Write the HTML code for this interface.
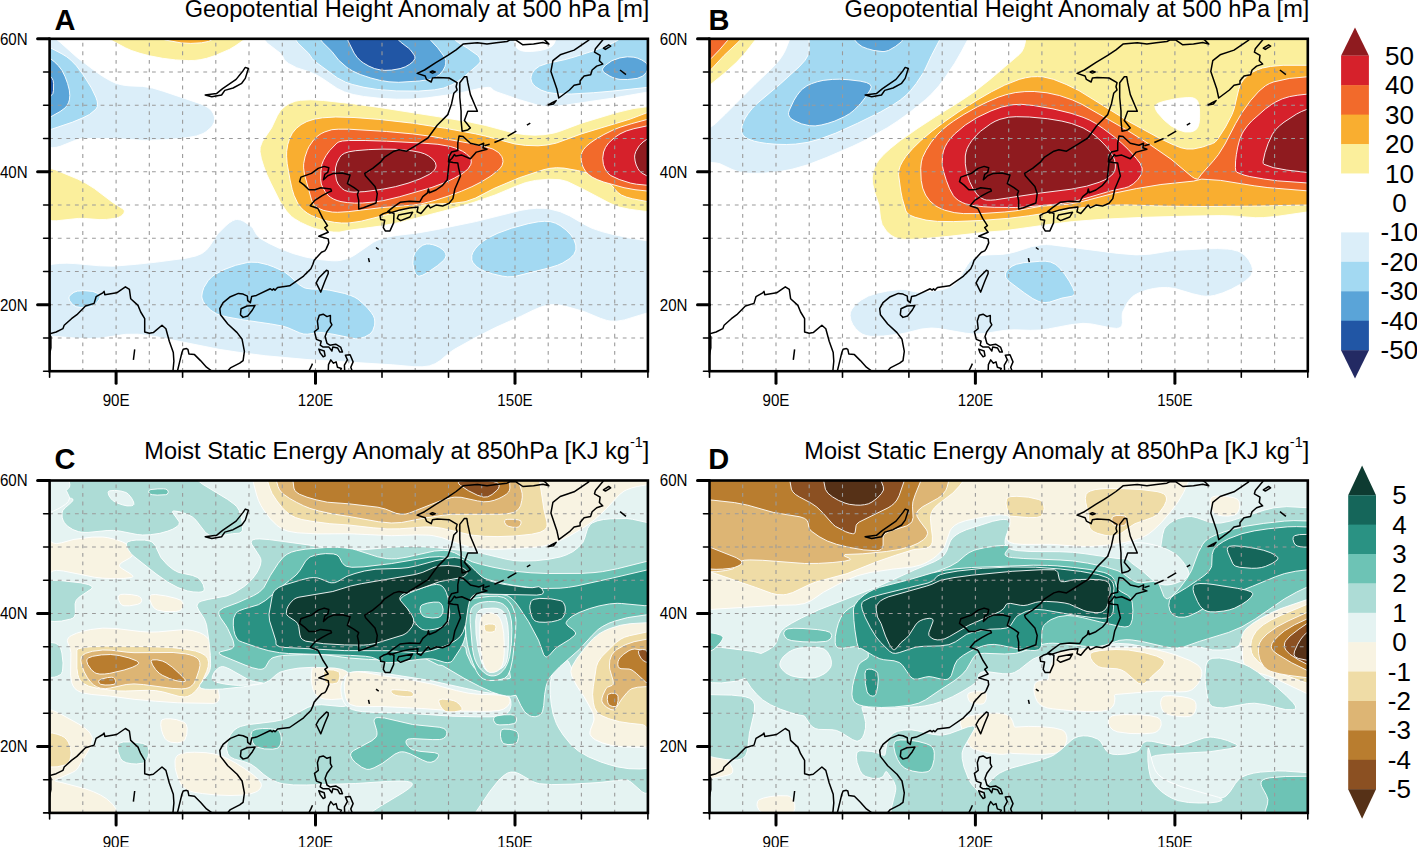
<!DOCTYPE html><html><head><meta charset="utf-8"><style>html,body{margin:0;padding:0;background:#fff;overflow:hidden}svg{display:block}text{font-family:"Liberation Sans",sans-serif;fill:#000}</style></head><body>
<svg width="1417" height="847" viewBox="0 0 1417 847">
<rect width="1417" height="847" fill="#fff"/>
<defs><clipPath id="pc"><rect x="0" y="0" width="598.3" height="332.4"/></clipPath>
<g id="coast">
<path d="M-1.3,322.4 L1.3,309.1 L1.3,297.8 L-0.7,295.2 L6.6,293.2 L13.3,289.9 L14.6,286.5 L21.9,279.9 L27.3,275.9 L35.9,267.2 L44.5,264.6 L46.5,257.9 L53.2,254.0 L54.5,252.6 L55.2,255.9 L67.1,254.0 L75.8,248.0 L79.8,250.6 L81.1,259.9 L88.4,266.6 L91.1,273.2 L95.1,279.9 L95.1,293.2 L99.7,294.5 L103.7,293.8 L112.4,286.5 L116.3,289.9 L119.7,302.5 L123.7,313.8 L124.3,322.4 L123.0,335.7"/>
<path d="M85.1,310.5 L83.8,321.1"/>
<path d="M127.0,335.7 L132.3,313.8 L133.6,310.5 L136.9,309.8 L138.3,310.5 L139.3,315.1 L144.9,315.8 L150.9,321.8 L156.9,328.4 L164.2,333.7"/>
<path d="M176.8,333.7 L180.8,329.1 L190.1,324.4 L193.5,321.8 L194.8,312.5 L192.5,300.5 L187.5,293.8 L178.2,285.2 L170.9,275.9 L170.2,269.9 L173.5,263.9 L180.8,257.9 L188.8,254.6 L193.5,255.3 L197.8,257.3 L198.1,261.9 L200.8,263.9 L202.1,257.6 L206.8,256.6 L220.7,250.0 L222.7,251.3 L224.0,250.0 L225.4,251.3 L226.7,250.0 L228.0,248.6 L240.0,247.0 L254.0,237.3 L255.9,235.3 L261.3,230.0 L263.3,225.4 L264.6,221.4 L271.9,213.4 L275.2,212.1 L276.6,210.1 L279.2,204.1 L278.6,200.1 L269.2,197.4 L278.6,193.5 L275.2,188.8 L277.9,186.8 L273.2,179.5 L268.6,170.2 L267.9,169.5 L260.6,166.9 L265.3,161.5 L272.6,156.9 L278.6,153.6 L281.9,152.2 L281.2,150.2 L271.2,148.9 L265.3,150.9 L259.3,150.9 L254.6,146.3 L250.0,142.9 L251.3,138.3 L261.9,134.6 L268.6,129.6 L274.6,127.6 L279.2,129.0 L278.2,133.6 L275.2,135.6 L273.9,140.9 L278.2,136.9 L283.9,134.6 L292.5,134.3 L300.5,136.3 L297.8,144.9 L304.5,148.9 L309.1,152.2 L307.8,155.6 L309.1,161.5 L309.1,170.2 L313.8,168.9 L326.4,164.2 L327.7,154.9 L325.4,147.6 L315.8,136.9 L315.1,134.6 L323.1,129.6 L331.1,123.0 L335.1,118.3 L344.4,112.4 L349.4,111.0 L357.0,112.4 L369.0,105.0 L378.3,99.2 L387.6,86.4 L398.2,75.8 L401.9,65.2 L404.2,54.5 L407.5,51.2 L406.5,47.9 L407.5,43.9 L399.5,39.2 L387.6,38.6 L382.9,39.2 L381.6,43.2 L376.9,40.6 L375.6,37.2 L367.6,34.6 L374.9,31.2 L386.2,23.9 L398.2,16.6 L406.5,11.0 L413.5,5.3 L427.8,4.0 L437.4,5.3 L446.7,4.0 L457.4,2.7 L460.7,1.0 L466.4,1.3 L473.3,6.0 L484.0,5.3 L493.3,3.7 L499.3,5.3 L495.3,1.3 L488.6,-3.3"/>
<path d="M535.2,-3.3 L539.2,1.3 L524.5,11.3 L510.6,16.0 L503.3,21.9 L501.3,32.6 L507.2,49.9 L509.2,59.2 L519.9,51.2 L524.5,46.5 L530.5,45.2 L530.5,41.9 L534.5,37.2 L541.1,35.9 L542.5,31.2 L547.1,27.3 L553.1,25.3 L549.8,21.9 L550.5,16.6 L544.9,13.3 L545.8,10.0 L553.1,1.3 L555.8,-3.3"/>
<path d="M553.8,9.3 L559.1,6.0 L561.1,7.3 L555.8,10.6Z"/>
<path d="M570.4,31.2 L576.4,35.9"/>
<path d="M498.6,66.1 L502.6,63.8 L506.6,61.8 L503.9,65.2Z"/>
<path d="M434.8,107.0 L440.1,105.4"/>
<path d="M444.8,103.7 L454.1,99.7"/>
<path d="M458.0,97.4 L466.7,92.4"/>
<path d="M477.3,86.4 L480.7,84.4"/>
<path d="M380.6,33.2 L382.9,32.2 L385.6,33.2 L382.9,34.2Z"/>
<path d="M414.8,37.9 L417.2,37.9 L418.2,43.9 L420.8,55.8 L427.8,72.5 L418.2,72.5 L414.8,81.8 L420.8,89.1 L418.2,91.1 L412.5,92.4 L411.5,81.8 L411.5,72.5 L410.2,58.5 L410.2,43.9Z"/>
<path d="M409.5,97.1 L413.5,97.7 L420.8,104.4 L429.5,106.4 L434.1,104.4 L433.4,109.0 L437.4,110.4 L426.8,113.3 L420.8,120.0 L412.2,116.3 L406.2,117.3 L404.9,115.7 L402.2,119.7 L398.9,123.0 L399.5,117.7 L401.9,113.3 L408.2,111.7 L408.2,104.4Z"/>
<path d="M338.1,172.8 L343.0,168.9 L350.5,163.5 L359.9,162.5 L370.3,162.9 L373.2,157.8 L377.9,154.0 L378.8,150.2 L379.7,154.0 L386.4,151.2 L393.0,146.5 L397.7,140.9 L398.6,132.3 L399.5,123.0 L403.5,123.7 L408.2,124.3 L409.1,129.5 L410.9,137.1 L408.1,143.7 L405.3,150.2 L403.3,159.8 L399.5,164.5 L393.0,167.3 L386.4,166.3 L380.7,169.1 L378.8,166.3 L376.0,169.1 L371.3,174.8 L367.5,173.0 L368.4,168.2 L359.9,169.1 L350.5,171.1 L340.4,174.2Z"/>
<path d="M349.0,176.2 L363.0,173.5 L360.3,178.2 L351.0,181.8 L347.7,179.5Z"/>
<path d="M330.4,176.8 L333.7,174.8 L339.7,172.8 L344.4,174.8 L344.0,184.1 L340.4,192.1 L335.7,192.1 L333.7,188.8 L335.1,181.5 L331.1,180.8Z"/>
<path d="M318.9,219.4 L319.8,223.4"/>
<path d="M326.4,208.7 L329.1,210.7"/>
<path d="M278.6,232.3 L276.9,231.4 L269.2,239.3 L266.6,244.0 L271.2,253.3 L275.2,242.7 L278.6,234.7Z"/>
<path d="M191.5,269.9 L197.4,267.2 L205.4,266.6 L202.8,271.2 L198.1,277.2 L193.5,278.6 L190.8,275.9Z"/>
<path d="M269.7,276.4 L273.6,275.4 L277.4,277.8 L280.8,276.6 L280.8,283.1 L282.3,286.1 L277.4,292.8 L275.5,297.7 L277.4,304.5 L280.3,306.4 L286.1,305.4 L291.0,308.3 L292.9,313.2 L290.1,313.2 L288.1,309.3 L283.2,308.3 L282.3,312.2 L279.3,308.3 L273.6,308.3 L270.6,306.4 L271.6,302.5 L266.8,300.6 L264.9,292.8 L268.7,289.9 L267.8,282.2Z"/>
<path d="M269.2,310.3 L274.6,312.2 L275.5,317.0 L273.6,318.0 L270.6,314.1Z"/>
<path d="M278.6,333.7 L278.9,325.8 L281.2,321.1 L283.9,324.4 L286.5,323.1 L287.9,328.4 L291.8,329.7 L289.9,333.7"/>
<path d="M295.2,333.7 L294.8,326.4 L297.8,321.1 L295.8,316.4 L300.5,316.0 L303.5,323.1 L301.2,328.4 L303.1,333.7"/>
<path d="M258.6,333.7 L261.3,328.4 L262.9,324.8"/>
<path d="M155.6,56.2 L166.9,54.8 L173.0,49.9 L186.5,40.6 L193.5,31.9 L195.7,28.6 L198.8,29.7 L195.7,39.6 L192.1,44.5 L183.5,49.2 L175.2,51.6 L172.0,56.2 L162.2,58.0Z"/>
</g></defs>
<g transform="translate(49.6,38.8)">
<g clip-path="url(#pc)">
<rect x="0" y="0" width="598.3" height="332.4" fill="#ffffff"/>
<path d="M215.3,-1.0 L215.5,1.6 L217.6,4.3 L231.2,14.7 L232.6,16.6 L234.7,20.8 L236.5,22.8 L238.9,24.6 L247.0,28.9 L258.5,32.6 L266.6,35.9 L272.2,39.2 L287.6,49.6 L295.0,53.1 L303.7,55.7 L313.8,57.6 L330.4,59.5 L347.1,60.4 L362.6,60.3 L377.7,59.0 L400.9,55.8 L409.3,54.4 L431.4,49.3 L438.8,48.5 L441.3,48.9 L444.3,51.7 L447.4,53.2 L469.9,60.9 L488.1,66.3 L493.8,67.4 L498.1,67.8 L506.2,67.5 L515.5,66.4 L563.7,59.2 L598.3,53.2 L600.1,53.2 L601.6,53.8 L602.6,54.7 L604.3,57.4 L605.7,49.3 L610.2,30.7 L611.5,23.3 L612.4,15.8 L612.4,8.8 L611.4,2.4 L609.0,-2.8 L605.0,-6.6 L598.6,-9.1 L590.0,-10.6 L579.6,-11.3 L568.0,-11.3 L543.6,-10.0 L502.6,-6.3 L500.4,-5.8 L499.5,-5.2 L499.8,-4.6 L505.4,-1.6 L506.5,-0.2 L504.7,4.5 L502.7,7.1 L499.3,9.2 L494.4,10.9 L488.6,12.0 L481.7,12.7 L475.2,12.6 L470.9,11.7 L467.8,9.9 L465.9,6.9 L464.1,0.4 L464.8,-0.7 L467.5,-1.7 L478.2,-4.0 L480.5,-4.7 L480.9,-5.3 L478.8,-5.8 L473.4,-6.3 L428.9,-7.4 L377.0,-8.2 L319.7,-8.6 L267.8,-8.2 L247.5,-7.6 L232.7,-6.6 L223.2,-5.2 L217.7,-3.3Z M-11.3,240.4 L-12.0,247.6 L-12.0,255.5 L-11.5,263.7 L-6.7,297.1 L-6.3,302.0 L-5.5,300.1 L-3.8,298.1 L-2.1,297.4 L-0.1,297.2 L28.7,299.5 L42.5,299.8 L51.0,299.2 L76.0,295.5 L88.7,295.4 L105.7,297.7 L169.5,310.5 L190.5,313.7 L215.6,316.9 L258.4,320.8 L343.1,326.0 L364.4,327.9 L372.5,328.0 L379.6,327.1 L385.5,324.9 L390.5,321.8 L399.6,314.1 L404.8,310.5 L427.0,298.2 L446.3,288.5 L471.9,277.1 L484.7,270.9 L491.1,268.3 L497.4,266.4 L500.6,265.9 L506.8,265.8 L516.2,267.5 L535.0,272.9 L550.8,279.5 L557.2,281.6 L560.5,282.2 L567.2,282.4 L574.8,281.1 L598.3,273.9 L600.1,273.9 L601.6,274.6 L602.6,275.6 L604.3,278.9 L605.3,269.3 L605.7,255.4 L605.8,229.1 L605.3,206.7 L604.7,199.2 L604.0,196.9 L600.9,201.2 L599.7,201.9 L598.3,202.1 L580.0,199.3 L562.2,195.4 L552.3,192.8 L542.5,189.5 L536.1,186.4 L520.1,177.1 L510.6,172.9 L499.1,170.0 L493.4,169.5 L487.0,169.5 L479.3,170.2 L470.1,171.8 L426.1,182.8 L388.1,190.6 L368.3,194.2 L346.6,196.7 L334.8,198.9 L327.5,201.6 L323.9,203.4 L304.9,216.4 L299.2,219.4 L291.6,221.5 L287.2,222.0 L282.7,222.0 L269.3,220.7 L256.5,218.4 L243.3,214.7 L229.5,209.4 L219.4,204.6 L211.4,200.1 L209.5,198.7 L207.0,196.0 L203.4,189.6 L201.4,187.5 L194.2,182.6 L191.0,181.2 L187.7,180.7 L186.1,180.8 L182.9,182.0 L179.6,184.1 L176.3,186.9 L167.9,195.3 L160.5,206.8 L156.9,211.2 L152.3,214.7 L146.5,217.1 L136.5,219.4 L107.2,223.3 L86.9,225.5 L63.8,227.4 L49.8,227.0 L25.3,224.8 L17.3,224.4 L9.9,224.6 L3.2,225.4 L-2.4,227.2 L-6.6,230.0 L-9.5,234.4Z M-8.1,12.5 L-9.9,49.1 L-10.0,74.6 L-9.4,85.8 L-8.3,95.0 L-6.6,101.7 L-4.2,105.8 L-1.1,108.1 L2.6,108.9 L6.8,108.5 L11.2,107.3 L25.1,101.7 L29.3,100.3 L33.3,99.7 L66.5,99.7 L95.9,101.7 L118.1,100.8 L137.0,98.9 L147.1,97.1 L153.5,94.7 L156.5,92.9 L160.9,89.1 L162.7,87.1 L164.4,83.9 L165.0,81.7 L164.9,78.5 L163.9,75.2 L162.6,73.0 L160.8,70.8 L158.4,68.8 L155.2,66.9 L151.2,65.1 L113.5,52.4 L103.1,49.3 L93.1,47.6 L79.8,47.1 L73.1,46.3 L66.5,44.6 L59.7,41.4 L52.9,37.4 L46.1,32.8 L27.2,18.4 L10.4,3.4 L4.1,-1.6 L-3.2,-10.8 L-4.2,-10.9 L-5.1,-9.9 L-6.0,-7.5Z" fill="#dbeef9" stroke="#fff" stroke-width="0.9" fill-rule="evenodd"/>
<path d="M482.2,43.4 L483.8,45.7 L485.9,47.8 L491.4,51.3 L498.2,53.6 L507.6,55.0 L521.6,55.2 L544.1,53.9 L562.6,52.3 L598.4,48.5 L600.5,48.6 L602.3,49.2 L604.0,50.8 L604.7,52.4 L607.0,27.8 L607.7,14.1 L607.2,1.7 L606.3,-3.1 L605.0,-6.6 L602.8,-8.9 L599.9,-10.3 L596.4,-10.9 L592.6,-10.9 L584.3,-9.8 L570.4,-6.3 L569.5,-5.2 L571.1,-1.7 L570.4,-0.0 L565.3,3.2 L557.8,6.8 L544.6,11.8 L524.4,18.3 L514.6,21.0 L497.6,24.6 L489.9,27.3 L485.2,30.7 L482.5,34.7 L481.6,37.4 L481.3,39.9Z M422.2,221.1 L423.5,223.9 L426.9,227.7 L430.1,230.0 L434.6,232.2 L443.2,235.1 L452.6,237.3 L458.1,238.0 L464.6,237.8 L498.7,229.3 L508.0,226.4 L512.8,224.3 L520.4,219.6 L524.3,215.6 L526.3,211.2 L526.2,206.2 L524.4,201.0 L521.2,196.1 L516.5,191.3 L510.4,186.7 L505.7,184.3 L500.6,182.8 L495.0,182.5 L488.6,183.0 L478.6,184.9 L462.0,189.4 L448.3,194.4 L439.3,198.7 L432.4,203.2 L428.6,206.6 L425.6,210.1 L423.4,213.5 L422.2,216.7Z M245.9,-1.1 L246.5,1.5 L248.2,4.2 L259.1,14.6 L262.7,19.9 L265.3,22.6 L287.8,39.1 L296.0,43.4 L302.6,45.6 L314.4,48.5 L327.6,50.6 L346.6,52.1 L368.7,52.3 L384.9,51.0 L394.2,49.2 L402.3,46.0 L406.0,44.0 L412.8,39.3 L428.3,26.0 L430.0,24.0 L430.7,22.5 L430.1,19.2 L428.0,16.5 L417.5,9.1 L408.9,3.9 L405.7,1.5 L405.6,0.5 L406.5,-0.4 L413.3,-4.1 L413.4,-4.9 L411.9,-5.6 L408.3,-6.2 L392.7,-7.1 L346.8,-8.3 L310.4,-8.7 L277.8,-8.3 L265.1,-7.6 L255.9,-6.6 L250.2,-5.2 L247.1,-3.3Z M363.7,218.3 L363.3,225.0 L364.8,232.4 L365.9,234.7 L367.2,236.5 L368.9,237.3 L370.0,237.3 L372.7,236.5 L377.4,234.1 L388.1,226.7 L393.9,221.6 L395.7,219.2 L396.4,217.0 L396.1,214.9 L394.9,212.8 L393.2,211.0 L390.2,208.7 L386.4,206.9 L383.2,205.9 L380.0,205.3 L377.0,205.2 L373.1,206.4 L369.5,209.1 L365.6,213.6Z M153.7,262.9 L156.2,266.5 L161.1,271.3 L166.8,275.0 L171.2,276.6 L178.6,278.4 L194.4,281.2 L221.1,285.1 L232.7,287.2 L238.3,288.9 L250.2,294.1 L254.0,295.2 L257.7,295.4 L268.3,293.9 L272.6,293.8 L283.4,295.4 L306.1,300.0 L308.7,300.0 L315.2,298.1 L320.6,295.1 L323.1,292.0 L325.0,286.4 L325.2,283.2 L324.9,280.0 L323.8,277.0 L321.7,273.8 L317.6,268.8 L313.1,264.5 L308.4,260.4 L305.0,258.4 L300.9,256.6 L295.1,254.7 L280.0,251.4 L273.0,250.4 L262.3,250.3 L256.0,249.4 L253.9,248.6 L249.9,246.1 L239.8,236.9 L235.2,233.4 L232.7,232.0 L224.2,228.2 L218.0,225.9 L208.2,223.6 L201.5,223.4 L197.9,223.7 L186.1,226.5 L174.2,230.9 L164.9,236.0 L162.5,237.8 L158.5,241.9 L154.3,248.7 L152.8,253.2 L152.2,257.3 L152.4,259.2Z M20.1,262.0 L23.2,265.9 L26.6,267.9 L31.2,268.7 L38.6,268.4 L43.2,267.2 L46.5,265.0 L49.7,260.7 L50.4,258.8 L50.4,257.2 L49.7,255.9 L48.3,254.7 L43.2,252.6 L34.9,251.9 L27.9,252.3 L24.3,253.5 L20.7,256.2 L19.7,257.7 L19.3,259.2Z M-7.3,28.5 L-7.2,78.8 L-6.6,91.8 L-5.7,98.1 L-5.3,98.0 L-2.6,93.1 L-0.1,91.1 L23.0,83.3 L33.3,79.0 L40.0,75.6 L46.3,70.4 L47.8,67.7 L48.0,65.3 L47.5,62.1 L46.2,58.3 L41.9,49.3 L33.5,35.9 L26.8,27.0 L21.3,21.3 L17.1,18.0 L12.4,15.1 L0.1,8.7 L-1.2,7.7 L-2.4,6.1 L-5.2,0.7 L-5.6,0.5 L-6.6,6.7Z" fill="#a3d9f2" stroke="#fff" stroke-width="0.9" fill-rule="evenodd"/>
<path d="M552.9,30.6 L553.5,32.6 L555.3,34.3 L559.7,37.0 L563.2,38.7 L567.3,40.0 L570.4,40.6 L577.9,40.7 L587.5,39.6 L592.7,37.5 L594.6,36.0 L596.8,33.5 L597.9,31.1 L598.2,28.4 L597.5,25.7 L596.4,24.0 L592.3,21.2 L587.7,19.3 L584.3,18.4 L577.7,18.0 L570.3,19.1 L562.3,21.9 L555.9,26.4 L553.5,29.1Z M270.0,-1.6 L270.8,0.6 L272.6,3.1 L282.2,12.6 L289.2,21.5 L297.4,28.7 L302.8,32.1 L310.7,35.7 L321.2,39.2 L330.2,41.5 L339.4,43.0 L349.0,43.5 L369.6,42.2 L380.1,40.7 L385.4,38.9 L390.1,35.7 L393.6,31.3 L395.3,27.9 L396.0,25.5 L396.2,21.9 L395.5,19.6 L394.1,17.1 L388.1,9.0 L381.0,1.4 L380.9,0.5 L381.5,-0.4 L385.8,-4.1 L385.7,-4.9 L384.5,-5.6 L381.9,-6.2 L370.9,-7.1 L338.7,-8.2 L313.4,-8.6 L290.8,-8.1 L282.1,-7.5 L275.9,-6.6 L272.2,-5.3 L270.4,-3.7Z M-7.2,27.3 L-7.5,48.9 L-7.2,70.4 L-6.6,79.8 L-6.3,82.3 L-5.5,84.3 L-4.4,83.6 L-1.0,79.2 L10.4,72.8 L15.5,69.1 L17.5,66.6 L18.9,63.9 L19.8,61.1 L20.2,56.6 L19.7,51.3 L18.0,44.7 L15.5,37.9 L12.6,31.9 L9.0,27.1 L4.9,23.1 L-0.9,18.5 L-4.8,13.4 L-5.3,13.4 L-5.8,14.0 L-6.3,15.5Z" fill="#5aa4d8" stroke="#fff" stroke-width="0.9" fill-rule="evenodd"/>
<path d="M297.3,-2.8 L297.4,-1.0 L298.8,2.8 L304.6,14.4 L307.5,18.5 L311.1,22.2 L314.0,24.3 L319.2,27.3 L325.0,29.8 L331.1,31.2 L335.3,31.6 L342.1,31.3 L350.5,29.8 L355.7,28.0 L360.2,25.4 L363.7,22.5 L365.3,19.7 L365.3,17.9 L364.5,16.1 L361.0,11.3 L358.9,9.3 L350.9,3.2 L349.0,1.3 L348.7,-0.6 L350.5,-4.1 L350.6,-4.9 L350.1,-5.6 L349.0,-6.2 L343.9,-7.0 L329.3,-8.0 L317.7,-8.2 L307.4,-7.8 L300.5,-6.6 L298.7,-5.6 L297.7,-4.3Z M-7.1,34.7 L-7.7,42.9 L-7.4,55.9 L-6.6,59.9 L-6.1,60.7 L-4.5,61.1 L-2.5,60.3 L-0.4,58.7 L3.2,54.9 L3.9,51.5 L4.0,44.9 L3.5,41.7 L2.7,39.9 L-2.1,34.3 L-5.3,32.4 L-6.1,32.5 L-6.6,33.2Z" fill="#2156a5" stroke="#fff" stroke-width="0.9" fill-rule="evenodd"/>
<path d="M210.6,108.4 L210.4,113.0 L211.8,120.0 L214.1,127.4 L217.2,135.6 L221.2,144.3 L230.9,163.6 L236.9,172.3 L241.8,177.6 L245.0,180.0 L251.1,183.6 L257.9,186.8 L264.6,189.5 L275.7,192.3 L284.1,193.3 L289.5,193.4 L299.1,191.5 L332.8,187.0 L350.3,183.6 L403.4,169.7 L424.5,163.4 L445.4,156.2 L465.8,147.6 L476.0,143.8 L485.9,141.6 L498.9,140.4 L510.5,140.9 L517.7,142.7 L534.0,150.6 L560.4,164.5 L569.5,168.2 L579.7,170.4 L598.4,172.9 L599.8,173.6 L601.0,175.0 L604.1,181.8 L604.4,180.8 L605.0,174.2 L605.5,158.1 L605.8,107.9 L605.3,74.6 L604.7,63.5 L604.0,59.9 L603.6,60.0 L600.9,65.8 L599.7,67.2 L598.4,67.8 L583.5,69.8 L566.9,73.8 L531.8,84.4 L509.7,92.7 L503.7,94.4 L494.4,95.9 L485.4,96.4 L475.7,95.9 L465.0,94.4 L436.1,86.7 L420.7,83.4 L389.3,78.0 L330.0,68.7 L304.8,65.2 L273.9,61.7 L261.2,61.0 L250.8,61.5 L245.5,62.5 L239.3,65.0 L235.9,67.2 L231.2,71.3 L227.7,76.9 L222.0,89.1 L212.8,102.7Z M43.2,-5.3 L43.7,-4.8 L45.4,-4.1 L57.2,-0.9 L75.8,9.0 L81.6,11.6 L90.4,14.5 L100.0,17.0 L113.1,19.5 L126.1,21.1 L139.0,21.8 L145.3,21.6 L151.2,20.8 L157.1,19.5 L165.6,16.7 L179.8,10.6 L185.4,7.3 L194.5,1.0 L206.3,-3.0 L208.3,-3.9 L209.0,-4.8 L208.1,-5.5 L205.0,-6.1 L199.4,-6.6 L177.5,-7.3 L144.6,-7.6 L62.3,-7.0 L47.5,-6.3 L44.3,-5.8Z M-8.0,134.4 L-9.9,143.2 L-10.8,154.4 L-10.4,165.9 L-9.6,170.9 L-8.3,175.1 L-6.6,178.2 L-4.3,180.1 L-1.1,181.3 L2.7,181.9 L6.8,182.0 L28.6,179.6 L34.8,179.6 L49.5,180.8 L57.0,180.6 L64.2,179.7 L68.7,178.6 L71.8,177.1 L74.3,174.4 L74.7,173.0 L74.5,171.5 L72.7,169.7 L63.8,164.2 L44.7,149.7 L36.4,144.5 L28.1,140.3 L6.0,131.1 L-0.1,129.4 L-2.7,129.4 L-4.9,130.1 L-6.6,131.6Z" fill="#fbef9c" stroke="#fff" stroke-width="0.9" fill-rule="evenodd"/>
<path d="M237.1,112.6 L237.0,117.4 L237.6,125.0 L240.5,141.3 L242.6,150.6 L244.4,156.5 L248.0,164.2 L250.8,168.2 L254.0,171.5 L257.6,174.3 L261.8,176.7 L272.1,180.7 L278.1,182.3 L284.7,183.5 L291.8,184.2 L299.1,184.2 L311.5,182.4 L345.2,173.9 L363.1,168.4 L372.9,166.2 L380.9,165.4 L403.2,164.5 L415.5,162.9 L425.8,159.3 L444.3,149.7 L469.8,138.9 L494.3,130.8 L500.4,129.5 L507.0,128.9 L514.5,129.3 L527.9,131.7 L537.3,134.1 L549.8,138.2 L555.9,141.0 L558.3,142.7 L561.9,146.3 L567.9,153.4 L571.7,156.2 L576.8,158.3 L582.7,159.9 L598.4,162.9 L599.8,163.6 L601.0,164.7 L603.7,169.7 L604.1,169.7 L604.4,168.7 L605.5,149.2 L605.8,106.8 L605.3,78.8 L604.7,69.5 L604.0,66.4 L603.6,66.5 L600.9,71.6 L599.6,73.1 L580.6,80.3 L531.8,95.1 L506.7,104.3 L497.5,106.2 L488.4,107.0 L475.8,106.6 L465.0,105.1 L436.1,97.4 L426.1,95.1 L395.9,89.5 L363.0,84.4 L329.3,80.6 L304.4,78.7 L286.2,78.2 L272.9,79.0 L264.6,80.4 L257.3,82.7 L251.5,85.8 L246.7,89.6 L242.8,94.3 L240.0,99.8 L238.1,106.0Z M108.2,-4.3 L109.3,-2.8 L111.2,-1.2 L113.8,0.5 L116.1,1.3 L131.5,4.1 L141.2,4.6 L151.9,4.0 L159.1,2.6 L161.6,1.3 L166.4,-2.8 L167.7,-4.3 L167.9,-5.0 L167.4,-5.7 L166.2,-6.2 L160.9,-6.9 L131.9,-7.4 L112.4,-6.7 L108.9,-5.7 L108.3,-5.0Z" fill="#f9ae30" stroke="#fff" stroke-width="0.9" fill-rule="evenodd"/>
<path d="M603.6,157.6 L604.0,157.7 L604.3,156.9 L605.0,152.2 L605.8,125.0 L605.5,90.8 L604.3,74.3 L601.5,78.5 L598.4,80.4 L582.3,84.8 L570.6,88.4 L563.7,91.1 L554.3,95.7 L545.4,100.9 L540.4,104.4 L536.5,107.7 L533.9,110.8 L532.3,113.9 L531.5,117.0 L531.6,121.4 L532.6,126.1 L534.0,129.3 L536.0,132.5 L538.8,135.5 L542.5,138.3 L547.6,140.8 L554.1,143.2 L574.4,148.9 L585.4,150.9 L598.4,152.3 L600.9,153.6Z M259.6,107.5 L257.7,111.5 L255.4,118.1 L254.1,124.8 L254.0,129.1 L254.9,135.7 L262.1,161.7 L264.6,166.2 L268.2,169.2 L274.2,171.7 L282.7,173.3 L288.1,173.5 L299.2,172.8 L331.1,168.9 L363.8,166.3 L372.3,164.9 L385.6,161.5 L399.2,157.1 L411.8,152.4 L422.3,147.9 L431.5,143.2 L441.4,137.1 L448.4,131.6 L450.8,129.1 L452.4,126.7 L453.4,123.0 L453.1,120.4 L452.2,117.8 L449.1,113.8 L443.4,110.3 L434.1,107.4 L421.9,104.8 L381.5,97.5 L363.0,95.1 L337.1,92.7 L299.2,90.4 L288.7,90.4 L282.2,90.9 L275.2,93.1 L271.6,94.8 L268.3,97.0 L264.1,101.0Z" fill="#f26a2b" stroke="#fff" stroke-width="0.9" fill-rule="evenodd"/>
<path d="M603.3,150.7 L603.8,150.7 L604.2,150.1 L605.0,146.2 L605.8,123.7 L605.5,95.5 L605.0,86.4 L604.0,82.0 L600.9,85.6 L599.6,86.6 L584.3,89.9 L576.6,92.2 L570.4,95.1 L564.9,98.8 L558.9,104.3 L555.9,108.6 L554.0,113.2 L553.1,119.5 L553.8,125.6 L555.5,130.2 L558.4,134.4 L561.3,136.8 L569.7,140.7 L581.0,144.3 L586.9,145.4 L599.3,146.6 L600.5,147.4Z M287.3,104.3 L280.1,111.7 L276.6,116.6 L273.9,121.5 L272.2,125.8 L271.3,132.5 L271.1,140.9 L271.7,145.3 L273.2,148.8 L275.5,152.7 L278.5,156.5 L281.1,158.6 L284.1,160.3 L287.5,161.7 L291.4,162.8 L297.8,163.8 L305.0,164.3 L313.1,164.2 L325.0,163.1 L334.1,161.7 L350.1,157.9 L382.3,148.6 L397.0,143.1 L405.1,139.1 L412.3,135.0 L416.0,132.3 L418.7,129.6 L421.1,125.8 L421.7,123.2 L421.4,120.7 L420.1,118.3 L416.6,114.8 L413.0,112.5 L406.3,109.4 L400.9,107.7 L388.3,105.5 L372.5,104.3 L337.0,102.4 L315.6,101.7 L299.2,101.7 L292.9,102.2 L289.3,103.1Z" fill="#d6212b" stroke="#fff" stroke-width="0.9" fill-rule="evenodd"/>
<path d="M602.9,141.2 L604.1,140.8 L605.0,138.2 L605.8,123.3 L605.3,100.9 L604.6,96.8 L603.5,95.6 L602.2,96.1 L599.1,99.2 L593.5,103.1 L589.7,106.8 L586.2,112.7 L585.2,116.0 L585.0,118.3 L585.5,122.2 L586.6,126.2 L588.4,129.9 L589.7,131.9 L592.5,134.4 L599.1,138.1Z M287.3,124.1 L285.9,129.2 L285.9,135.6 L286.8,141.3 L288.6,145.3 L292.1,149.5 L295.1,151.6 L299.1,152.9 L304.4,153.4 L315.3,152.8 L332.7,150.5 L346.1,147.8 L358.4,144.4 L370.4,140.1 L379.6,135.6 L382.6,133.5 L384.7,131.4 L386.0,129.2 L386.5,127.1 L385.8,123.9 L383.2,120.4 L378.9,117.1 L375.1,115.1 L370.6,113.6 L362.3,112.0 L345.4,110.5 L333.4,110.3 L319.2,110.8 L305.9,111.9 L299.2,113.0 L294.8,114.5 L291.9,116.4 L290.2,118.5Z" fill="#8f1b1f" stroke="#fff" stroke-width="0.9" fill-rule="evenodd"/>
<path d="M33.2,0 V332.4 M66.5,0 V332.4 M99.7,0 V332.4 M133.0,0 V332.4 M166.2,0 V332.4 M199.4,0 V332.4 M232.7,0 V332.4 M265.9,0 V332.4 M299.2,0 V332.4 M332.4,0 V332.4 M365.6,0 V332.4 M398.9,0 V332.4 M432.1,0 V332.4 M465.4,0 V332.4 M498.6,0 V332.4 M531.8,0 V332.4 M565.1,0 V332.4" stroke="#9a9a9a" stroke-width="1.1" stroke-dasharray="3.8,4.76" stroke-dashoffset="4.56" fill="none"/>
<path d="M0,33.2 H598.3 M0,66.5 H598.3 M0,99.7 H598.3 M0,133.0 H598.3 M0,166.2 H598.3 M0,199.4 H598.3 M0,232.7 H598.3 M0,265.9 H598.3 M0,299.2 H598.3" stroke="#9a9a9a" stroke-width="1.1" stroke-dasharray="3.8,4.76" stroke-dashoffset="0.36" fill="none"/>
<use href="#coast" fill="none" stroke="#000" stroke-width="1.5" stroke-linejoin="round"/>
</g>
<rect x="0" y="0" width="598.3" height="332.4" fill="none" stroke="#000" stroke-width="2.6"/>
<line x1="0.0" y1="332.4" x2="0.0" y2="338.4" stroke="#000" stroke-width="1.6" stroke-linecap="round"/>
<line x1="66.5" y1="332.4" x2="66.5" y2="344.4" stroke="#000" stroke-width="3" stroke-linecap="round"/>
<line x1="133.0" y1="332.4" x2="133.0" y2="338.4" stroke="#000" stroke-width="1.6" stroke-linecap="round"/>
<line x1="199.4" y1="332.4" x2="199.4" y2="338.4" stroke="#000" stroke-width="1.6" stroke-linecap="round"/>
<line x1="265.9" y1="332.4" x2="265.9" y2="344.4" stroke="#000" stroke-width="3" stroke-linecap="round"/>
<line x1="332.4" y1="332.4" x2="332.4" y2="338.4" stroke="#000" stroke-width="1.6" stroke-linecap="round"/>
<line x1="398.9" y1="332.4" x2="398.9" y2="338.4" stroke="#000" stroke-width="1.6" stroke-linecap="round"/>
<line x1="465.4" y1="332.4" x2="465.4" y2="344.4" stroke="#000" stroke-width="3" stroke-linecap="round"/>
<line x1="531.8" y1="332.4" x2="531.8" y2="338.4" stroke="#000" stroke-width="1.6" stroke-linecap="round"/>
<line x1="598.3" y1="332.4" x2="598.3" y2="338.4" stroke="#000" stroke-width="1.6" stroke-linecap="round"/>
<line x1="0.0" y1="332.4" x2="-6.0" y2="332.4" stroke="#000" stroke-width="1.6" stroke-linecap="round"/>
<line x1="0.0" y1="299.2" x2="-6.0" y2="299.2" stroke="#000" stroke-width="1.6" stroke-linecap="round"/>
<line x1="0.0" y1="265.9" x2="-12.0" y2="265.9" stroke="#000" stroke-width="3" stroke-linecap="round"/>
<line x1="0.0" y1="232.7" x2="-6.0" y2="232.7" stroke="#000" stroke-width="1.6" stroke-linecap="round"/>
<line x1="0.0" y1="199.4" x2="-6.0" y2="199.4" stroke="#000" stroke-width="1.6" stroke-linecap="round"/>
<line x1="0.0" y1="166.2" x2="-6.0" y2="166.2" stroke="#000" stroke-width="1.6" stroke-linecap="round"/>
<line x1="0.0" y1="133.0" x2="-12.0" y2="133.0" stroke="#000" stroke-width="3" stroke-linecap="round"/>
<line x1="0.0" y1="99.7" x2="-6.0" y2="99.7" stroke="#000" stroke-width="1.6" stroke-linecap="round"/>
<line x1="0.0" y1="66.5" x2="-6.0" y2="66.5" stroke="#000" stroke-width="1.6" stroke-linecap="round"/>
<line x1="0.0" y1="33.2" x2="-6.0" y2="33.2" stroke="#000" stroke-width="1.6" stroke-linecap="round"/>
<line x1="0.0" y1="0.0" x2="-12.0" y2="0.0" stroke="#000" stroke-width="3" stroke-linecap="round"/>
<text transform="translate(66.5,367.0) scale(0.9,1)" font-size="16.8" text-anchor="middle">90E</text>
<text transform="translate(265.9,367.0) scale(0.9,1)" font-size="16.8" text-anchor="middle">120E</text>
<text transform="translate(465.4,367.0) scale(0.9,1)" font-size="16.8" text-anchor="middle">150E</text>
<text transform="translate(-22,5.9) scale(0.9,1)" font-size="16.8" text-anchor="end">60N</text>
<text transform="translate(-22,138.9) scale(0.9,1)" font-size="16.8" text-anchor="end">40N</text>
<text transform="translate(-22,271.8) scale(0.9,1)" font-size="16.8" text-anchor="end">20N</text>
</g>
<g transform="translate(709.5,38.8)">
<g clip-path="url(#pc)">
<rect x="0" y="0" width="598.3" height="332.4" fill="#ffffff"/>
<path d="M141.0,273.4 L140.6,276.6 L141.4,281.4 L143.4,285.9 L146.2,289.7 L149.7,293.2 L152.8,295.2 L156.7,296.7 L161.4,297.5 L173.8,297.2 L190.8,295.2 L196.9,294.0 L211.9,290.2 L222.0,289.2 L230.0,289.8 L256.4,294.4 L264.6,295.2 L275.6,294.6 L292.5,291.9 L299.2,291.2 L305.6,291.0 L320.8,291.5 L331.1,291.2 L339.0,290.1 L361.0,285.9 L373.6,284.5 L381.8,285.1 L401.3,289.0 L407.2,289.6 L409.5,289.2 L411.2,288.3 L412.2,287.1 L413.0,283.9 L412.6,277.7 L412.9,273.7 L417.3,264.7 L419.8,261.2 L422.8,258.0 L424.8,256.5 L429.2,254.1 L437.4,251.2 L443.9,249.7 L450.8,248.8 L458.0,248.6 L465.9,249.8 L483.4,255.0 L492.2,257.0 L496.4,257.4 L500.6,257.3 L504.8,256.6 L513.4,254.0 L522.1,250.2 L529.9,246.0 L536.2,241.8 L540.2,238.3 L541.5,236.6 L542.9,233.1 L542.9,229.7 L542.0,226.4 L539.6,221.9 L537.5,218.9 L534.6,216.0 L530.7,213.4 L528.1,212.3 L521.9,210.7 L517.9,210.3 L508.1,209.8 L496.7,210.0 L468.7,211.4 L459.9,212.3 L440.6,215.4 L426.8,216.1 L408.3,214.6 L342.3,206.1 L336.9,205.8 L331.1,206.1 L321.6,208.0 L305.7,213.1 L299.1,214.7 L292.2,215.6 L277.6,216.1 L270.7,217.1 L267.6,218.0 L264.6,219.4 L262.0,221.3 L259.7,223.7 L257.6,226.6 L248.1,242.1 L245.7,244.7 L243.3,246.6 L240.5,248.2 L237.4,249.5 L230.8,251.2 L220.5,252.6 L208.9,253.4 L204.8,252.9 L195.5,250.7 L190.8,250.6 L178.2,252.2 L167.7,254.4 L158.9,257.3 L152.0,261.1 L148.1,264.0 L144.9,267.2 L142.4,270.4Z M-6.3,89.2 L-7.0,92.3 L-8.0,101.3 L-8.2,108.4 L-7.9,114.9 L-6.6,119.7 L-5.6,121.2 L-2.9,122.9 L0.6,123.6 L6.7,124.1 L10.6,125.0 L22.5,130.6 L29.3,133.1 L34.7,134.0 L40.7,134.5 L54.0,134.4 L70.1,132.8 L82.6,130.4 L98.2,126.0 L117.4,118.5 L142.9,107.5 L155.7,101.4 L178.1,88.8 L187.6,82.6 L200.5,73.4 L216.4,60.5 L222.0,55.2 L229.4,47.0 L235.7,38.5 L245.2,24.4 L252.2,12.3 L258.7,-0.1 L260.1,-1.5 L262.5,-2.8 L272.6,-5.4 L272.7,-5.8 L266.5,-6.3 L247.9,-6.9 L169.9,-7.5 L91.9,-6.9 L73.3,-6.3 L67.6,-5.6 L68.1,-5.2 L78.3,-2.4 L79.9,-1.3 L80.4,-0.1 L75.8,11.6 L73.2,16.4 L69.8,21.3 L63.0,28.9 L45.5,45.6 L15.7,75.5 L5.8,85.0 L2.2,87.7 L-0.7,89.3 L-1.8,89.3 L-5.2,88.2Z" fill="#dbeef9" stroke="#fff" stroke-width="0.9" fill-rule="evenodd"/>
<path d="M296.1,238.3 L297.1,240.2 L299.9,242.9 L315.0,254.2 L323.3,259.8 L328.6,262.4 L331.1,263.3 L335.7,263.8 L340.3,263.2 L352.4,259.3 L362.6,257.4 L364.6,255.9 L365.0,254.8 L365.0,253.3 L363.2,248.7 L359.8,242.4 L355.4,235.7 L350.5,229.7 L348.0,227.2 L345.7,225.4 L340.9,223.2 L335.7,222.4 L330.3,222.5 L314.2,223.9 L306.8,225.5 L302.5,227.4 L298.2,230.9 L296.8,233.0 L295.9,235.2Z M90.1,-5.5 L90.4,-5.1 L97.8,-2.2 L99.1,-1.3 L99.6,-0.2 L99.7,10.6 L99.0,14.9 L98.1,17.2 L95.6,21.5 L89.6,28.1 L70.9,45.1 L47.6,64.7 L42.6,69.8 L38.8,74.6 L35.8,79.2 L33.7,83.6 L32.4,87.6 L31.9,91.0 L32.3,94.0 L33.6,96.4 L35.8,98.4 L38.7,100.2 L44.8,102.4 L50.4,103.6 L56.8,104.6 L67.2,105.5 L76.9,105.7 L86.0,105.3 L98.6,103.5 L109.5,100.5 L126.3,94.3 L148.2,84.4 L170.9,73.2 L183.7,65.9 L190.8,61.2 L196.5,56.5 L201.1,51.8 L206.7,44.7 L214.2,33.4 L222.0,16.6 L230.7,-0.0 L231.7,-1.1 L233.4,-2.0 L239.8,-4.4 L241.0,-4.9 L241.1,-5.5 L236.7,-6.3 L222.9,-6.9 L165.6,-7.5 L108.2,-6.9 L94.4,-6.3Z" fill="#a3d9f2" stroke="#fff" stroke-width="0.9" fill-rule="evenodd"/>
<path d="M139.2,-5.2 L139.8,-3.9 L143.6,-0.7 L148.0,4.5 L152.7,7.9 L157.9,9.9 L164.5,11.7 L173.5,12.8 L175.5,12.6 L179.2,11.6 L185.9,7.7 L192.1,2.9 L192.6,2.2 L193.1,-0.5 L196.8,-3.6 L197.6,-5.1 L197.2,-5.7 L196.1,-6.2 L190.9,-6.9 L168.5,-7.5 L146.2,-6.9 L140.9,-6.3Z M79.9,71.3 L79.1,73.9 L79.1,76.0 L80.4,78.7 L82.5,80.5 L85.6,82.3 L92.2,85.1 L100.1,86.9 L105.7,87.1 L111.7,86.2 L118.4,84.5 L125.4,82.2 L134.9,77.9 L140.1,74.9 L144.9,71.1 L151.0,64.8 L155.7,58.9 L160.7,51.2 L161.6,48.7 L161.6,47.5 L160.3,45.4 L156.8,43.7 L150.6,42.3 L138.6,40.9 L130.3,40.4 L123.0,40.6 L113.6,41.6 L107.7,43.0 L102.2,44.8 L97.3,47.1 L93.0,50.2 L91.0,52.1 L87.5,56.6 L84.5,61.4Z" fill="#5aa4d8" stroke="#fff" stroke-width="0.9" fill-rule="evenodd"/>
<path d="M295.4,-5.3 L295.9,-4.8 L298.6,-4.1 L312.1,-1.8 L315.2,-1.0 L316.2,-0.2 L315.8,3.4 L314.4,8.7 L312.5,12.6 L309.8,15.7 L280.0,41.1 L264.6,53.2 L252.1,61.6 L225.9,78.0 L208.3,89.5 L190.8,101.7 L180.9,109.7 L174.5,115.5 L169.5,121.0 L167.1,124.5 L164.8,129.6 L163.4,134.5 L162.7,139.2 L163.2,145.1 L165.2,153.6 L169.5,166.2 L171.0,179.2 L172.6,185.6 L176.9,192.3 L181.5,196.5 L185.6,198.7 L190.8,200.1 L197.6,200.7 L210.2,200.2 L241.4,197.3 L275.2,193.5 L295.2,191.9 L342.6,185.3 L363.0,182.8 L393.6,180.4 L434.6,178.5 L479.5,177.3 L511.2,176.8 L522.4,177.1 L545.7,178.9 L553.8,178.8 L568.6,177.4 L599.6,172.9 L601.8,173.4 L603.4,175.3 L604.8,180.4 L605.0,172.8 L606.5,161.3 L619.2,105.4 L623.3,83.1 L626.0,60.9 L626.3,39.7 L623.5,20.6 L616.7,4.9 L605.0,-6.6 L586.5,-14.0 L561.1,-18.2 L530.5,-20.1 L496.5,-19.9 L460.7,-18.3 L424.9,-15.7 L334.9,-7.7 L304.8,-6.3Z M-8.9,-3.1 L-10.3,1.8 L-10.9,7.7 L-10.9,14.2 L-10.5,21.1 L-8.9,34.4 L-6.3,50.8 L-5.8,52.8 L-5.5,52.9 L-1.5,47.8 L15.9,33.6 L27.3,23.3 L36.4,13.2 L47.6,-1.3 L52.2,-4.8 L52.7,-5.6 L50.7,-6.3 L27.9,-9.8 L14.2,-10.9 L7.7,-10.9 L1.8,-10.3 L-3.1,-8.9 L-6.6,-6.6Z" fill="#fbef9c" stroke="#fff" stroke-width="0.9" fill-rule="evenodd"/>
<path d="M445.4,67.8 L446.1,70.6 L448.2,74.1 L454.8,81.5 L461.3,86.9 L468.5,90.9 L475.3,93.1 L481.2,93.1 L483.9,92.4 L486.2,91.1 L487.9,89.1 L488.6,87.8 L489.6,84.2 L490.1,79.8 L490.0,69.8 L488.5,63.1 L487.3,61.2 L485.3,59.7 L482.3,58.8 L478.0,58.7 L470.3,59.4 L462.8,60.7 L454.6,62.5 L449.2,64.2 L446.6,65.8Z" fill="#ffffff" stroke="#fff" stroke-width="0.9" fill-rule="evenodd"/>
<path d="M295.2,46.3 L281.9,53.0 L267.7,61.2 L249.5,72.8 L235.7,82.4 L222.5,92.4 L211.4,101.7 L203.0,109.9 L196.5,117.5 L193.3,122.3 L190.8,127.0 L189.4,131.5 L189.1,136.0 L191.3,152.2 L192.8,159.7 L196.4,172.2 L198.5,175.1 L201.4,176.8 L205.6,178.5 L216.5,181.3 L228.0,182.6 L243.8,182.8 L271.1,181.7 L299.2,179.5 L319.2,177.0 L363.0,170.2 L384.5,167.5 L400.7,166.4 L416.3,166.1 L459.0,167.4 L498.2,167.7 L538.8,167.4 L598.2,166.2 L601.5,166.9 L603.6,168.4 L604.9,170.4 L605.5,145.0 L605.7,96.4 L605.4,47.8 L604.5,16.3 L602.3,24.3 L601.1,25.9 L599.7,26.5 L573.6,26.5 L561.0,27.6 L553.1,29.2 L547.8,31.0 L543.3,33.2 L539.0,36.1 L534.2,40.6 L531.2,45.1 L529.2,50.7 L524.6,70.1 L522.5,75.8 L516.1,88.1 L508.2,100.4 L505.5,103.5 L503.0,104.8 L492.9,108.3 L483.7,110.2 L477.3,110.2 L471.5,109.0 L463.6,105.9 L450.0,99.5 L420.4,83.4 L369.4,51.8 L356.6,45.6 L343.8,40.5 L334.2,38.2 L328.0,37.8 L321.9,38.0 L316.0,39.0 L309.7,40.6Z M-8.3,-4.1 L-9.3,-0.6 L-9.8,3.7 L-9.6,13.4 L-6.6,33.3 L-5.9,35.8 L-4.9,36.3 L2.4,29.8 L14.6,16.6 L29.4,2.7 L36.4,-4.9 L35.9,-5.9 L34.8,-6.3 L23.0,-8.4 L13.4,-9.6 L3.7,-9.8 L-0.6,-9.3 L-4.1,-8.3 L-6.6,-6.6Z" fill="#f9ae30" stroke="#fff" stroke-width="0.9" fill-rule="evenodd"/>
<path d="M487.9,140.4 L485.1,139.6 L482.0,137.6 L461.5,120.4 L440.0,105.5 L417.2,91.2 L372.6,65.6 L363.0,61.2 L350.2,56.8 L337.5,54.0 L324.7,52.7 L315.3,52.8 L305.7,53.8 L295.8,56.1 L288.9,58.4 L278.4,62.9 L267.9,68.0 L254.4,75.6 L244.4,82.0 L238.2,86.5 L232.7,91.1 L227.8,95.9 L221.5,103.7 L216.6,111.5 L213.1,118.6 L211.9,123.1 L211.2,129.5 L211.7,141.6 L213.2,149.3 L216.1,156.2 L220.2,162.0 L225.8,166.9 L229.4,168.9 L235.2,171.4 L244.7,173.8 L253.9,174.8 L271.2,174.8 L295.1,173.2 L306.4,172.0 L331.1,167.5 L359.4,165.4 L370.8,163.2 L405.5,154.2 L426.8,149.8 L451.4,145.7 L484.0,142.3 L492.2,140.3 L511.2,141.6 L544.7,147.0 L558.4,148.8 L599.6,152.2 L601.8,152.9 L603.3,154.3 L604.9,157.7 L605.5,122.7 L605.6,80.9 L605.2,45.2 L604.4,29.4 L602.0,35.9 L601.0,37.2 L599.8,37.8 L580.1,39.6 L564.2,43.1 L560.0,44.7 L555.9,47.0 L549.5,52.3 L541.0,61.9 L532.5,73.8 L526.1,84.8 L515.5,105.2 L509.0,115.6 L503.9,122.0 L492.0,135.4 L488.6,140.0Z M-6.6,-6.6 L-7.8,-4.8 L-8.5,-2.2 L-8.8,1.0 L-8.7,8.0 L-7.0,20.8 L-6.3,23.8 L-5.6,25.1 L-5.1,25.2 L-3.1,24.1 L1.5,19.9 L10.0,11.0 L18.1,1.6 L21.7,-3.3 L22.5,-5.2 L21.0,-6.3 L16.0,-7.5 L10.0,-8.5 L3.4,-9.1 L-2.6,-8.6 L-4.9,-7.9Z" fill="#f26a2b" stroke="#fff" stroke-width="0.9" fill-rule="evenodd"/>
<path d="M525.9,128.8 L526.3,132.2 L527.4,133.5 L534.6,136.3 L540.1,137.7 L553.8,140.1 L567.9,142.0 L599.8,144.3 L601.4,144.8 L602.7,145.9 L603.6,147.4 L604.7,150.9 L605.4,130.7 L605.6,88.7 L605.2,60.9 L604.4,48.5 L602.0,53.5 L601.0,54.6 L599.8,55.1 L588.3,56.4 L580.1,57.8 L572.8,60.0 L566.3,63.1 L562.1,65.6 L555.9,70.1 L542.2,82.2 L537.8,87.1 L534.1,92.3 L532.5,95.1 L530.0,101.3 L528.2,108.3 L526.9,115.5 L526.1,122.0Z M237.9,103.8 L235.6,108.0 L234.0,112.1 L233.1,116.3 L232.7,123.0 L233.1,128.0 L234.3,133.4 L236.8,141.5 L240.1,150.0 L243.9,156.9 L245.7,159.0 L249.2,161.8 L253.2,163.9 L256.3,165.1 L264.6,166.9 L273.7,167.9 L284.7,168.5 L305.7,168.7 L318.4,168.0 L343.5,165.7 L353.0,164.6 L363.0,162.9 L374.4,160.0 L400.9,152.2 L415.2,149.1 L418.9,148.0 L423.7,145.1 L428.2,140.9 L431.5,136.0 L432.6,132.6 L432.6,129.3 L430.6,124.5 L426.8,119.6 L418.7,110.6 L412.5,104.7 L405.7,98.8 L393.6,89.7 L385.9,84.5 L380.1,81.3 L373.6,78.5 L361.6,74.5 L343.5,70.1 L324.0,66.7 L311.6,65.5 L302.4,66.0 L292.3,68.2 L281.5,72.1 L267.7,78.7 L255.7,86.3 L245.2,95.1 L241.1,99.5Z" fill="#d6212b" stroke="#fff" stroke-width="0.9" fill-rule="evenodd"/>
<path d="M553.6,122.5 L553.7,124.5 L554.4,125.5 L563.8,128.8 L577.3,131.3 L600.8,134.0 L602.1,134.9 L604.4,138.4 L605.0,133.6 L605.4,123.9 L605.6,93.8 L605.2,73.9 L604.7,67.2 L604.1,64.9 L603.2,65.4 L600.5,69.3 L591.8,72.8 L586.8,75.4 L574.5,83.4 L570.0,87.0 L566.1,90.9 L562.9,95.5 L558.7,104.5 L555.5,113.9Z M257.7,109.6 L256.5,113.4 L255.8,117.2 L255.8,125.0 L257.1,133.5 L259.9,142.4 L263.6,149.9 L267.8,156.0 L271.9,159.4 L275.2,160.9 L277.2,161.3 L281.3,161.4 L286.0,161.0 L331.1,154.2 L361.6,150.4 L377.1,147.4 L389.6,143.5 L394.9,141.2 L399.1,138.9 L403.5,135.0 L405.1,132.2 L405.8,129.2 L405.9,126.1 L405.1,121.3 L403.8,118.0 L400.7,112.7 L396.5,107.4 L391.5,102.2 L385.6,96.9 L381.1,93.5 L373.6,89.1 L362.1,84.7 L352.4,82.3 L337.8,79.9 L319.9,78.2 L306.7,77.9 L299.1,78.4 L290.4,80.5 L285.6,82.5 L281.3,84.9 L271.2,92.3 L267.4,95.9 L262.3,101.8 L259.7,105.8Z" fill="#8f1b1f" stroke="#fff" stroke-width="0.9" fill-rule="evenodd"/>
<path d="M33.2,0 V332.4 M66.5,0 V332.4 M99.7,0 V332.4 M133.0,0 V332.4 M166.2,0 V332.4 M199.4,0 V332.4 M232.7,0 V332.4 M265.9,0 V332.4 M299.2,0 V332.4 M332.4,0 V332.4 M365.6,0 V332.4 M398.9,0 V332.4 M432.1,0 V332.4 M465.4,0 V332.4 M498.6,0 V332.4 M531.8,0 V332.4 M565.1,0 V332.4" stroke="#9a9a9a" stroke-width="1.1" stroke-dasharray="3.8,4.76" stroke-dashoffset="4.56" fill="none"/>
<path d="M0,33.2 H598.3 M0,66.5 H598.3 M0,99.7 H598.3 M0,133.0 H598.3 M0,166.2 H598.3 M0,199.4 H598.3 M0,232.7 H598.3 M0,265.9 H598.3 M0,299.2 H598.3" stroke="#9a9a9a" stroke-width="1.1" stroke-dasharray="3.8,4.76" stroke-dashoffset="0.36" fill="none"/>
<use href="#coast" fill="none" stroke="#000" stroke-width="1.5" stroke-linejoin="round"/>
</g>
<rect x="0" y="0" width="598.3" height="332.4" fill="none" stroke="#000" stroke-width="2.6"/>
<line x1="0.0" y1="332.4" x2="0.0" y2="338.4" stroke="#000" stroke-width="1.6" stroke-linecap="round"/>
<line x1="66.5" y1="332.4" x2="66.5" y2="344.4" stroke="#000" stroke-width="3" stroke-linecap="round"/>
<line x1="133.0" y1="332.4" x2="133.0" y2="338.4" stroke="#000" stroke-width="1.6" stroke-linecap="round"/>
<line x1="199.4" y1="332.4" x2="199.4" y2="338.4" stroke="#000" stroke-width="1.6" stroke-linecap="round"/>
<line x1="265.9" y1="332.4" x2="265.9" y2="344.4" stroke="#000" stroke-width="3" stroke-linecap="round"/>
<line x1="332.4" y1="332.4" x2="332.4" y2="338.4" stroke="#000" stroke-width="1.6" stroke-linecap="round"/>
<line x1="398.9" y1="332.4" x2="398.9" y2="338.4" stroke="#000" stroke-width="1.6" stroke-linecap="round"/>
<line x1="465.4" y1="332.4" x2="465.4" y2="344.4" stroke="#000" stroke-width="3" stroke-linecap="round"/>
<line x1="531.8" y1="332.4" x2="531.8" y2="338.4" stroke="#000" stroke-width="1.6" stroke-linecap="round"/>
<line x1="598.3" y1="332.4" x2="598.3" y2="338.4" stroke="#000" stroke-width="1.6" stroke-linecap="round"/>
<line x1="0.0" y1="332.4" x2="-6.0" y2="332.4" stroke="#000" stroke-width="1.6" stroke-linecap="round"/>
<line x1="0.0" y1="299.2" x2="-6.0" y2="299.2" stroke="#000" stroke-width="1.6" stroke-linecap="round"/>
<line x1="0.0" y1="265.9" x2="-12.0" y2="265.9" stroke="#000" stroke-width="3" stroke-linecap="round"/>
<line x1="0.0" y1="232.7" x2="-6.0" y2="232.7" stroke="#000" stroke-width="1.6" stroke-linecap="round"/>
<line x1="0.0" y1="199.4" x2="-6.0" y2="199.4" stroke="#000" stroke-width="1.6" stroke-linecap="round"/>
<line x1="0.0" y1="166.2" x2="-6.0" y2="166.2" stroke="#000" stroke-width="1.6" stroke-linecap="round"/>
<line x1="0.0" y1="133.0" x2="-12.0" y2="133.0" stroke="#000" stroke-width="3" stroke-linecap="round"/>
<line x1="0.0" y1="99.7" x2="-6.0" y2="99.7" stroke="#000" stroke-width="1.6" stroke-linecap="round"/>
<line x1="0.0" y1="66.5" x2="-6.0" y2="66.5" stroke="#000" stroke-width="1.6" stroke-linecap="round"/>
<line x1="0.0" y1="33.2" x2="-6.0" y2="33.2" stroke="#000" stroke-width="1.6" stroke-linecap="round"/>
<line x1="0.0" y1="0.0" x2="-12.0" y2="0.0" stroke="#000" stroke-width="3" stroke-linecap="round"/>
<text transform="translate(66.5,367.0) scale(0.9,1)" font-size="16.8" text-anchor="middle">90E</text>
<text transform="translate(265.9,367.0) scale(0.9,1)" font-size="16.8" text-anchor="middle">120E</text>
<text transform="translate(465.4,367.0) scale(0.9,1)" font-size="16.8" text-anchor="middle">150E</text>
<text transform="translate(-22,5.9) scale(0.9,1)" font-size="16.8" text-anchor="end">60N</text>
<text transform="translate(-22,138.9) scale(0.9,1)" font-size="16.8" text-anchor="end">40N</text>
<text transform="translate(-22,271.8) scale(0.9,1)" font-size="16.8" text-anchor="end">20N</text>
</g>
<g transform="translate(49.6,480.5)">
<g clip-path="url(#pc)">
<rect x="0" y="0" width="598.3" height="332.4" fill="#e5f3f2"/>
<path d="M171.5,-5.7 L172.3,-5.4 L196.0,-2.6 L201.1,-1.5 L203.2,-0.1 L207.0,14.4 L208.9,20.0 L211.4,25.2 L214.6,30.3 L220.6,38.2 L227.5,45.1 L232.7,48.5 L238.4,50.7 L247.8,52.3 L267.9,53.4 L299.2,53.2 L341.7,55.2 L366.8,54.4 L379.4,54.7 L383.6,55.2 L392.1,57.1 L413.3,64.5 L421.9,67.0 L430.5,68.3 L443.7,68.9 L456.7,68.5 L485.4,66.8 L494.4,65.4 L503.8,62.8 L510.3,60.1 L520.1,55.3 L531.8,48.5 L539.0,43.8 L545.1,39.0 L555.2,29.9 L569.9,14.1 L574.3,10.7 L576.8,9.4 L582.1,7.4 L587.7,6.0 L600.4,3.7 L604.2,4.0 L605.2,3.2 L607.1,2.6 L630.6,-1.7 L634.4,-2.9 L634.9,-4.1 L630.9,-5.1 L621.4,-6.0 L605.0,-6.6 L500.6,-7.6 L262.0,-7.2 L200.8,-6.6Z M262.5,188.0 L261.8,193.4 L261.8,199.1 L262.3,204.1 L263.5,209.5 L265.7,213.6 L267.9,215.7 L270.9,217.4 L274.6,218.5 L281.9,219.0 L293.4,218.2 L312.3,215.4 L322.2,213.1 L327.3,210.8 L329.1,209.4 L331.6,205.7 L333.0,200.9 L333.1,195.9 L332.7,193.4 L330.7,189.1 L329.1,187.5 L326.8,186.1 L323.9,185.0 L316.6,183.3 L303.9,181.8 L279.9,179.7 L274.2,179.6 L269.3,180.3 L265.6,182.2 L264.3,183.7Z M125.6,287.0 L126.3,290.6 L128.4,297.6 L131.3,303.6 L132.9,305.8 L136.8,309.0 L139.0,310.1 L144.2,311.7 L153.1,313.1 L167.1,314.5 L180.4,315.0 L193.0,314.6 L199.5,313.8 L206.2,311.5 L208.1,310.5 L210.6,308.2 L211.8,305.5 L211.4,302.5 L208.7,298.9 L204.0,294.6 L195.0,288.1 L186.1,282.5 L178.4,278.4 L170.7,275.1 L165.3,273.5 L156.4,272.2 L145.1,271.7 L137.5,272.0 L131.1,273.3 L128.7,274.4 L127.0,275.9 L125.9,277.9 L125.4,280.5Z M17.7,159.8 L18.3,162.5 L20.3,167.6 L21.3,172.1 L21.0,194.8 L22.2,202.4 L23.5,205.5 L25.3,208.1 L27.7,210.0 L30.7,211.5 L34.2,212.6 L42.2,214.0 L59.7,215.5 L84.5,218.8 L105.7,220.7 L128.3,222.3 L164.2,222.9 L167.5,221.7 L168.7,220.5 L169.5,218.7 L169.8,216.3 L168.9,209.7 L162.6,189.1 L160.9,182.1 L160.4,176.5 L161.1,165.0 L160.4,161.3 L159.5,159.5 L157.1,156.5 L153.9,154.1 L149.9,152.1 L142.5,150.0 L136.5,149.3 L129.3,149.5 L108.5,151.4 L99.7,151.6 L90.6,151.0 L66.4,148.0 L53.2,147.6 L41.1,149.0 L33.6,150.7 L27.0,152.7 L21.8,155.0 L19.9,156.2 L18.7,157.5Z M111.1,244.2 L111.8,249.0 L113.3,253.9 L115.3,257.9 L117.6,260.2 L121.2,261.7 L127.7,262.3 L133.1,261.3 L135.2,259.5 L137.2,254.1 L137.6,247.6 L136.6,243.9 L135.6,242.7 L134.2,241.6 L126.8,239.1 L120.9,238.3 L115.7,238.3 L112.4,239.3 L111.6,240.5Z M100.2,116.2 L100.2,119.4 L102.5,124.9 L105.0,128.0 L108.1,129.7 L115.4,131.0 L126.1,131.0 L129.6,130.3 L130.8,129.7 L131.8,128.8 L133.2,126.6 L133.7,124.1 L133.0,121.6 L131.0,119.7 L126.5,117.9 L116.1,115.4 L105.9,114.0 L101.7,114.3 L100.7,115.1Z M68.7,117.0 L69.2,119.7 L70.4,122.4 L72.1,124.4 L74.4,125.3 L79.9,125.3 L87.9,123.9 L91.1,122.4 L92.1,120.2 L91.4,117.6 L90.0,116.2 L87.8,115.2 L81.6,114.1 L74.5,113.7 L70.9,114.0 L69.2,115.0Z M-8.0,68.3 L-8.2,80.6 L-7.7,88.2 L-6.6,93.1 L-5.9,94.2 L-4.9,94.6 L-2.6,94.0 L3.4,90.5 L6.7,89.8 L13.8,90.5 L44.7,96.7 L53.2,97.7 L63.3,98.1 L74.1,97.9 L81.8,97.0 L83.1,96.4 L83.4,95.7 L81.4,93.7 L71.5,87.5 L70.3,86.2 L69.9,85.0 L70.3,83.8 L72.4,81.9 L79.8,77.7 L82.5,75.5 L83.3,73.3 L82.7,69.7 L80.3,66.2 L76.5,63.2 L72.9,61.4 L66.1,59.0 L58.3,57.2 L53.2,56.5 L42.5,56.6 L24.3,58.9 L11.9,62.3 L6.6,63.2 L3.4,62.4 L-2.6,58.9 L-4.9,58.3 L-5.9,58.7 L-6.7,59.9 L-7.3,61.9Z M-11.2,311.6 L-12.9,320.6 L-13.0,325.2 L-12.6,329.5 L-11.4,333.4 L-9.5,336.7 L-6.7,339.0 L-2.4,340.6 L3.4,341.5 L18.0,342.2 L42.2,340.9 L63.0,338.5 L66.9,336.9 L68.1,334.9 L67.8,332.7 L66.0,327.9 L63.2,323.9 L57.0,318.3 L51.1,314.6 L43.8,311.2 L35.5,308.2 L12.2,302.1 L6.1,300.9 L5.5,300.4 L5.4,299.6 L5.9,299.0 L10.0,297.6 L23.1,291.8 L25.7,290.3 L27.7,288.6 L39.2,269.6 L41.7,264.0 L42.8,258.9 L42.5,256.6 L40.4,252.5 L38.7,250.5 L34.3,246.8 L29.1,243.5 L9.2,232.5 L2.8,229.8 L-0.1,229.2 L-2.7,229.4 L-4.9,230.5 L-6.7,232.7 L-7.9,236.5 L-8.9,241.9 L-10.0,256.1 L-10.0,272.0 L-8.9,286.4 L-7.9,291.9 L-6.6,295.8 L-4.9,298.2 L-3.2,299.3 L-2.9,300.1 L-3.4,300.8 L-6.6,302.5 L-8.3,304.7Z" fill="#f8f3e2" stroke="#fff" stroke-width="0.9" fill-rule="evenodd"/>
<path d="M197.9,-5.5 L198.2,-4.9 L200.6,-4.4 L213.3,-2.1 L216.5,-1.1 L217.8,-0.1 L220.2,7.5 L222.5,13.0 L227.4,20.5 L232.4,26.9 L236.4,31.0 L240.9,34.5 L246.0,37.1 L252.2,39.0 L262.4,40.8 L280.2,43.2 L299.2,44.5 L323.8,47.3 L337.4,48.4 L350.1,48.3 L375.2,46.4 L383.6,46.5 L392.1,47.7 L421.9,54.6 L434.9,55.8 L448.4,56.1 L465.0,55.5 L482.1,53.7 L490.4,51.8 L494.4,49.8 L495.9,48.5 L496.9,47.0 L497.4,45.3 L497.3,41.4 L494.4,29.7 L490.0,-0.0 L491.1,-1.6 L494.1,-2.8 L509.8,-5.8 L490.0,-6.6 L448.6,-7.2 L320.3,-7.4 L235.5,-6.9 L207.0,-6.3Z M274.3,191.8 L273.9,194.6 L274.4,198.9 L275.3,201.3 L276.7,202.6 L279.0,203.3 L283.3,203.4 L287.0,202.6 L288.5,201.4 L289.5,199.4 L290.3,195.5 L289.7,192.2 L288.4,190.9 L284.0,189.6 L278.8,189.3 L275.3,190.1Z M27.3,169.3 L27.3,187.7 L28.2,193.9 L29.1,196.9 L30.3,199.4 L31.9,201.5 L34.0,203.1 L39.2,205.7 L49.0,208.1 L67.6,210.4 L76.0,210.5 L97.8,209.8 L105.7,210.1 L113.0,211.3 L129.5,215.9 L135.1,216.4 L137.6,216.1 L142.2,213.9 L146.0,210.5 L149.3,206.3 L153.2,199.5 L157.1,190.9 L158.5,186.2 L158.9,181.7 L158.0,177.8 L155.4,174.8 L151.4,172.5 L146.0,170.6 L135.6,168.6 L121.9,167.0 L95.5,165.9 L55.0,165.6 L41.2,166.2 L33.8,167.1 L29.1,168.2Z M-8.3,259.0 L-9.3,269.1 L-9.0,276.3 L-7.7,282.0 L-6.6,283.9 L-5.2,285.1 L-0.8,286.5 L7.5,286.3 L15.0,284.6 L16.6,283.9 L18.9,281.9 L20.4,279.0 L21.2,275.7 L21.4,272.3 L21.0,267.8 L18.8,261.7 L16.9,259.0 L14.7,256.8 L11.7,255.2 L7.5,253.7 L2.8,252.6 L-1.8,252.4 L-5.4,253.4 L-6.6,254.6Z" fill="#efdca6" stroke="#fff" stroke-width="0.9" fill-rule="evenodd"/>
<path d="M208.7,-5.3 L209.0,-4.8 L211.2,-4.1 L222.4,-1.8 L225.5,-0.8 L226.8,0.2 L228.4,5.9 L229.6,8.7 L231.5,11.4 L234.2,13.9 L240.1,18.0 L247.1,21.9 L254.0,25.3 L260.2,27.8 L268.7,30.3 L281.6,33.2 L299.2,35.9 L329.2,41.3 L341.7,42.5 L352.0,42.0 L372.9,37.9 L392.8,34.8 L400.9,33.9 L450.4,33.8 L458.1,33.2 L464.0,31.9 L466.2,30.9 L469.2,28.3 L471.0,25.2 L472.2,20.0 L472.7,16.6 L472.6,13.2 L471.8,9.6 L469.0,1.3 L468.9,-0.2 L469.8,-1.1 L472.2,-2.1 L483.6,-4.4 L485.9,-4.9 L486.3,-5.5 L478.5,-6.3 L453.2,-6.9 L347.7,-7.5 L242.2,-6.9 L216.9,-6.3Z M455.1,40.1 L455.1,42.1 L456.8,44.8 L459.1,45.9 L463.0,46.7 L466.8,46.9 L468.7,46.5 L470.5,45.0 L471.5,42.5 L471.2,40.3 L468.5,39.3 L463.4,38.8 L458.2,38.8 L456.1,39.2Z M31.2,179.6 L31.9,184.2 L34.6,191.4 L37.9,197.4 L41.3,201.9 L44.0,204.4 L47.2,206.4 L51.0,207.7 L55.5,208.2 L60.7,207.5 L76.6,204.0 L84.4,203.4 L94.0,204.1 L122.5,207.9 L131.9,208.4 L135.6,208.1 L138.5,207.4 L140.8,206.3 L144.1,203.4 L146.6,198.0 L149.4,189.7 L150.4,184.9 L150.2,181.9 L149.2,179.3 L147.1,177.2 L144.1,175.6 L140.3,174.3 L135.6,173.3 L123.5,172.0 L84.4,172.2 L77.3,171.7 L61.5,169.7 L53.2,169.5 L42.7,170.8 L36.0,172.8 L32.9,174.9 L31.9,176.2Z" fill="#ddb574" stroke="#fff" stroke-width="0.9" fill-rule="evenodd"/>
<path d="M226.2,-5.3 L226.6,-4.8 L228.7,-4.1 L239.3,-1.8 L242.2,-0.8 L243.4,0.4 L244.3,7.6 L245.5,10.2 L246.6,11.5 L249.8,13.7 L257.4,16.7 L266.6,19.3 L277.7,21.7 L299.2,23.3 L328.3,26.7 L336.0,28.6 L346.4,32.8 L352.4,33.9 L356.3,33.5 L360.1,32.4 L391.5,20.0 L401.7,17.1 L404.9,16.6 L411.5,16.8 L428.0,20.4 L434.0,21.3 L439.4,21.0 L444.6,19.8 L449.3,18.0 L453.4,15.9 L456.8,13.7 L459.0,11.5 L459.7,10.2 L460.3,7.6 L460.0,0.3 L461.0,-0.9 L463.7,-1.8 L473.8,-4.1 L475.8,-4.8 L476.1,-5.3 L468.9,-6.3 L446.1,-6.9 L350.9,-7.5 L255.9,-6.9 L233.2,-6.3Z M101.6,180.9 L102.9,184.4 L105.9,188.9 L109.7,192.8 L112.6,194.7 L119.8,198.0 L126.3,200.1 L133.2,201.3 L135.7,200.8 L135.6,199.5 L134.8,198.3 L129.7,193.0 L122.7,186.7 L116.4,182.2 L112.7,180.5 L107.3,179.3 L103.1,179.4 L101.7,180.1Z M37.2,180.7 L38.2,184.1 L41.8,189.3 L44.9,191.9 L46.5,192.8 L50.3,193.6 L55.0,193.5 L60.1,192.9 L74.6,189.5 L82.5,186.9 L86.7,184.9 L89.0,183.0 L89.1,182.2 L86.9,180.3 L79.3,177.4 L69.6,175.0 L61.1,174.0 L51.8,174.4 L43.1,175.8 L39.1,177.3 L37.9,178.2 L37.3,179.3Z M49.0,200.9 L49.5,202.5 L51.1,203.8 L55.5,204.5 L60.4,204.4 L64.4,203.8 L65.6,203.0 L66.0,201.6 L65.8,199.9 L65.1,198.3 L63.9,197.1 L62.2,196.7 L57.9,197.1 L51.7,198.6 L49.8,199.5Z" fill="#b97d2f" stroke="#fff" stroke-width="0.9" fill-rule="evenodd"/>
<path d="M408.8,2.1 L409.2,3.3 L411.1,5.1 L419.0,10.3 L428.0,14.8 L434.0,16.6 L438.1,16.3 L442.5,14.0 L447.4,9.8 L448.8,8.0 L449.6,5.7 L449.2,3.5 L446.8,1.8 L443.6,1.0 L438.6,0.4 L426.3,-0.1 L417.0,0.1 L411.3,0.7 L409.6,1.2Z" fill="#8b5022" stroke="#fff" stroke-width="0.9" fill-rule="evenodd"/>
<path d="M147.5,126.1 L149.0,129.5 L154.8,138.4 L156.9,144.2 L159.4,160.8 L160.8,175.0 L161.0,183.3 L160.9,186.8 L160.2,189.8 L158.9,192.8 L157.1,195.5 L150.2,204.3 L149.8,205.8 L150.4,207.1 L152.2,208.1 L155.6,208.7 L160.3,208.9 L172.8,208.5 L194.3,206.2 L211.4,203.4 L215.0,202.4 L220.1,200.0 L226.6,194.2 L230.3,191.7 L238.7,189.3 L248.9,187.6 L263.2,186.8 L285.0,187.6 L291.8,188.8 L294.7,189.8 L297.2,191.1 L299.2,192.8 L300.6,195.0 L301.8,198.0 L302.7,201.3 L303.4,208.8 L302.7,216.1 L301.9,219.3 L300.7,222.0 L299.0,224.1 L296.9,225.3 L294.4,225.9 L291.3,226.0 L271.9,224.2 L264.6,224.7 L258.2,226.9 L239.7,236.7 L232.6,239.3 L224.5,241.0 L197.5,244.3 L190.8,246.0 L188.3,247.1 L184.4,249.7 L180.8,254.3 L177.7,262.2 L177.1,265.4 L177.0,268.7 L178.3,273.3 L180.1,275.9 L181.5,276.9 L184.8,278.5 L196.3,281.7 L201.4,283.8 L206.5,287.3 L214.2,294.0 L220.4,298.4 L228.1,301.9 L232.7,303.2 L243.8,304.4 L256.9,304.5 L306.1,303.0 L338.0,300.9 L351.8,300.5 L357.2,300.9 L360.8,301.7 L362.6,302.9 L362.8,303.6 L362.2,305.4 L358.6,308.6 L353.0,312.4 L331.0,325.6 L324.6,329.8 L320.0,333.6 L317.9,336.8 L319.1,339.0 L324.1,340.5 L332.4,341.5 L355.9,342.0 L396.6,340.7 L432.4,338.4 L428.6,337.3 L425.8,335.5 L425.3,333.7 L426.2,331.7 L440.1,311.0 L447.5,301.6 L451.1,297.7 L454.7,294.6 L458.0,292.5 L461.2,291.6 L464.3,291.6 L467.4,292.4 L470.4,293.7 L482.9,300.9 L486.4,302.3 L490.0,303.2 L501.8,304.1 L523.3,303.6 L549.4,302.0 L574.4,299.2 L578.1,299.7 L581.7,301.8 L592.3,311.2 L595.5,312.8 L598.4,312.5 L601.0,309.5 L603.2,303.0 L605.0,292.5 L606.2,276.2 L607.0,254.1 L607.4,227.5 L606.9,136.2 L605.0,42.5 L604.2,24.3 L601.5,38.8 L600.4,41.5 L599.2,42.4 L582.9,38.8 L577.2,38.0 L561.1,38.3 L554.0,39.0 L547.6,40.4 L542.5,42.5 L540.6,44.1 L538.0,48.0 L535.1,57.6 L533.2,62.0 L528.6,67.0 L523.2,71.2 L516.3,74.6 L510.5,76.5 L499.5,78.7 L486.5,80.2 L473.0,80.6 L464.5,80.1 L456.6,78.7 L431.2,72.6 L402.4,68.7 L382.6,66.8 L369.4,66.0 L356.5,65.9 L343.3,66.6 L310.7,69.5 L293.9,69.6 L284.4,68.7 L258.6,64.4 L219.7,59.1 L209.9,58.4 L206.1,58.6 L203.5,59.2 L201.9,60.3 L201.6,61.8 L202.1,63.7 L210.0,75.8 L211.1,78.2 L211.4,80.5 L210.8,84.5 L209.2,88.6 L207.1,92.5 L203.0,98.0 L198.1,103.0 L194.3,106.2 L185.3,111.9 L177.2,115.4 L158.6,118.9 L152.2,120.5 L149.8,121.6 L148.3,123.0 L147.5,124.5Z M-18.2,-0.6 L-18.1,2.1 L-16.7,5.0 L-14.5,7.9 L-7.6,15.1 L-5.7,18.3 L-2.5,16.9 L0.0,16.6 L18.2,17.2 L22.1,17.9 L23.2,18.6 L23.4,19.7 L22.1,21.6 L15.8,27.1 L13.3,29.9 L12.4,32.6 L12.6,36.8 L13.4,39.6 L14.8,42.2 L17.7,45.5 L23.3,49.1 L28.8,51.1 L33.3,51.9 L38.5,51.9 L57.5,50.0 L63.9,49.9 L69.9,50.5 L87.6,54.0 L93.1,54.5 L100.8,54.2 L110.3,52.8 L118.2,50.6 L123.3,48.6 L127.4,46.1 L129.2,44.2 L129.7,42.1 L129.2,40.7 L122.9,31.9 L123.0,30.9 L124.0,30.4 L129.2,31.1 L133.9,32.4 L138.8,34.3 L142.9,36.5 L146.4,39.7 L155.8,51.9 L159.5,54.5 L161.7,55.2 L164.0,55.5 L169.0,55.5 L182.8,53.2 L189.5,52.7 L191.8,51.6 L192.8,49.9 L193.0,44.8 L191.9,38.0 L189.5,29.9 L187.2,26.2 L184.4,23.6 L178.0,18.9 L153.4,4.0 L148.6,0.3 L148.6,-0.7 L149.9,-1.5 L158.8,-4.6 L159.2,-5.2 L158.0,-5.8 L154.4,-6.3 L138.3,-7.0 L90.0,-8.2 L51.6,-8.6 L16.9,-8.2 L3.3,-7.6 L-6.7,-6.6 L-13.0,-5.1 L-16.7,-3.1Z M76.8,63.5 L77.1,65.7 L78.8,69.4 L81.3,72.9 L83.6,75.3 L106.4,93.3 L118.3,101.7 L128.4,107.1 L137.6,110.4 L143.5,111.4 L149.3,111.7 L152.4,111.3 L154.2,110.4 L154.7,108.4 L153.6,104.1 L150.8,99.5 L148.2,97.1 L142.8,94.9 L128.9,91.9 L123.5,89.0 L117.6,84.2 L111.2,76.9 L105.7,65.2 L103.3,62.2 L101.7,61.2 L99.7,60.4 L94.9,59.6 L86.5,59.6 L81.7,60.2 L78.5,61.2 L77.6,61.8Z M68.0,267.0 L68.4,271.4 L70.8,277.7 L73.1,280.5 L76.7,282.2 L81.5,283.2 L86.8,283.5 L93.6,282.6 L96.2,280.8 L97.2,279.3 L98.7,275.6 L99.3,271.3 L98.8,267.3 L98.1,265.8 L97.1,264.6 L93.0,262.9 L83.3,261.4 L73.7,261.5 L69.8,262.6 L68.8,263.7Z M-9.5,112.1 L-10.2,120.5 L-9.7,128.7 L-8.0,135.4 L-6.6,137.6 L-4.7,139.1 L-2.2,140.1 L0.9,140.7 L4.5,141.0 L11.8,140.6 L21.2,138.5 L23.3,137.6 L24.6,136.5 L25.8,133.4 L25.5,123.3 L26.6,119.7 L29.6,116.6 L41.6,108.5 L42.5,107.4 L42.5,106.4 L41.8,105.5 L38.7,104.0 L31.1,102.3 L8.3,99.8 L-0.5,99.8 L-3.0,100.4 L-5.0,101.5 L-6.6,103.0 L-7.9,105.4Z M-8.0,169.9 L-8.7,176.3 L-8.8,183.5 L-8.1,189.9 L-6.6,194.1 L-5.4,195.3 L-3.8,196.2 L0.5,197.0 L5.1,196.6 L7.3,196.0 L10.9,194.1 L12.0,192.8 L12.7,191.0 L13.1,188.5 L13.4,182.4 L12.3,172.5 L10.9,167.3 L10.0,165.5 L8.8,164.3 L5.5,162.6 L1.5,162.0 L-2.4,162.6 L-5.6,164.2 L-6.6,165.5Z" fill="#addcd6" stroke="#fff" stroke-width="0.9" fill-rule="evenodd"/>
<path d="M511.3,182.2 L508.1,185.4 L505.2,189.4 L502.8,193.8 L501.9,196.1 L500.9,201.3 L500.6,207.4 L500.7,213.9 L501.5,223.2 L503.5,233.7 L506.8,243.1 L509.2,247.7 L513.7,254.7 L521.4,264.2 L528.9,270.6 L538.7,276.3 L551.0,281.4 L559.7,284.2 L567.9,286.4 L579.3,288.2 L590.9,288.5 L600.6,287.4 L604.9,285.9 L606.5,284.8 L608.7,281.6 L609.6,277.7 L609.5,275.7 L608.1,272.0 L606.8,270.5 L605.0,269.2 L602.4,268.4 L595.1,267.3 L571.5,266.2 L563.7,265.2 L554.8,263.0 L549.7,261.2 L545.4,259.1 L542.3,256.7 L540.6,253.9 L540.4,252.0 L541.2,248.5 L543.6,242.6 L544.5,238.6 L544.1,234.8 L542.6,230.8 L534.2,215.8 L528.2,207.0 L525.9,202.8 L524.8,199.6 L522.4,188.7 L519.1,181.5 L517.8,179.9 L516.2,179.3 L514.1,180.1Z M292.4,201.2 L291.5,205.2 L291.3,209.5 L291.7,213.8 L292.7,217.9 L294.3,221.7 L296.4,224.9 L299.2,227.4 L302.8,229.1 L307.4,230.3 L312.9,231.2 L325.8,232.0 L353.0,232.4 L402.3,235.7 L427.1,236.3 L441.4,236.3 L449.5,235.6 L455.4,234.0 L457.5,232.8 L459.1,231.1 L460.3,229.2 L461.4,224.8 L461.2,220.4 L459.8,216.8 L458.7,215.4 L455.9,213.8 L452.2,213.2 L440.4,212.6 L432.1,211.4 L379.6,199.8 L335.9,193.0 L321.0,191.4 L314.2,191.0 L308.2,191.1 L303.1,191.6 L299.2,192.8 L296.2,194.8 L293.9,197.7Z M162.5,198.3 L162.9,199.4 L163.8,200.3 L167.3,201.9 L175.0,203.5 L183.5,204.6 L188.9,204.9 L198.5,204.6 L207.6,203.7 L213.1,202.5 L203.6,200.8 L199.5,199.5 L180.0,188.5 L174.9,186.4 L172.8,186.1 L171.0,186.4 L169.3,187.2 L166.0,190.0 L164.7,191.7 L162.9,195.2Z M58.5,11.9 L59.2,14.9 L61.4,18.2 L63.2,20.0 L66.6,22.1 L72.6,24.3 L77.5,25.4 L81.8,25.3 L83.4,24.8 L84.3,23.9 L84.0,21.4 L82.0,17.6 L78.9,13.8 L76.5,12.0 L71.3,10.5 L65.0,9.9 L60.1,10.3 L59.1,10.7Z M-6.6,-6.6 L-8.1,-3.4 L-8.6,1.3 L-8.1,8.8 L-8.1,18.7 L-7.6,25.4 L-6.7,29.9 L-5.9,31.2 L-4.0,32.5 L-1.6,32.5 L2.6,31.2 L10.4,27.4 L16.0,23.8 L18.8,20.9 L19.9,18.0 L19.7,16.3 L16.7,10.0 L19.9,6.6 L20.3,4.1 L19.6,1.0 L17.0,-3.4 L14.6,-5.8 L11.8,-7.3 L5.3,-8.6 L0.6,-8.8 L-3.7,-8.2Z" fill="#e5f3f2" stroke="#fff" stroke-width="0.9" fill-rule="evenodd"/>
<path d="M540.5,253.8 L542.3,256.7 L545.7,259.2 L552.7,262.3 L560.9,264.6 L570.1,266.1 L596.8,266.6 L598.6,267.1 L600.4,268.8 L603.6,275.6 L604.0,275.8 L604.6,271.6 L605.3,258.6 L606.0,204.1 L605.3,149.6 L604.6,136.6 L603.7,132.5 L603.1,132.8 L599.7,140.0 L598.5,141.5 L597.1,142.2 L580.5,143.2 L570.8,144.8 L560.0,148.1 L554.2,150.7 L549.4,153.4 L543.2,158.4 L535.6,167.1 L527.4,177.7 L522.8,185.3 L521.9,187.5 L521.2,191.1 L522.2,195.8 L527.4,205.6 L534.2,215.7 L540.6,226.8 L542.6,230.8 L544.1,234.8 L544.5,238.5 L544.2,240.5 L540.6,250.3Z M297.4,194.6 L296.1,197.1 L294.7,203.7 L294.9,211.0 L296.4,217.9 L297.6,220.6 L299.2,222.7 L301.1,224.1 L306.5,225.7 L313.3,226.1 L332.4,226.0 L372.3,228.0 L408.2,230.6 L438.5,230.9 L449.4,230.0 L454.2,228.5 L457.8,225.9 L460.0,222.9 L460.5,221.2 L460.3,218.3 L459.4,217.0 L458.0,216.1 L456.0,215.4 L449.6,214.5 L427.5,213.7 L418.8,212.7 L406.9,210.1 L382.9,203.7 L359.0,199.0 L334.9,195.5 L316.6,192.2 L308.2,191.2 L301.5,191.8 L299.2,192.8Z" fill="#f8f3e2" stroke="#fff" stroke-width="0.9" fill-rule="evenodd"/>
<path d="M601.4,250.8 L602.5,250.9 L603.4,249.9 L604.3,247.7 L605.0,244.0 L605.5,238.1 L606.1,220.1 L606.3,197.8 L605.7,165.6 L605.0,151.6 L604.6,147.8 L603.7,144.6 L603.1,144.6 L602.5,145.4 L599.7,149.7 L598.5,150.9 L597.1,151.5 L580.0,155.2 L575.1,156.7 L571.3,158.5 L565.6,162.8 L552.3,176.0 L548.5,181.5 L546.7,186.3 L543.7,206.3 L543.0,213.8 L543.8,222.4 L545.0,227.3 L547.4,231.5 L551.3,234.8 L559.0,238.1 L570.0,241.2 L580.5,242.8 L592.2,244.0 L594.0,244.5 L595.8,245.7Z M389.2,221.0 L389.9,223.6 L391.4,226.5 L393.4,229.1 L395.6,230.7 L398.6,231.3 L404.7,231.3 L410.2,230.3 L412.2,229.4 L412.5,228.8 L412.2,227.1 L410.0,224.0 L406.7,221.3 L404.2,220.2 L398.8,219.0 L393.0,218.6 L389.6,219.4Z M341.3,210.6 L341.8,211.9 L343.8,213.8 L345.7,214.7 L348.5,215.4 L356.3,216.2 L361.3,216.2 L363.0,215.8 L363.9,214.2 L363.6,212.9 L362.6,211.6 L361.0,210.7 L358.0,210.1 L345.0,209.2 L342.4,209.4 L341.7,209.7Z" fill="#efdca6" stroke="#fff" stroke-width="0.9" fill-rule="evenodd"/>
<path d="M563.8,229.4 L564.8,228.9 L566.7,227.1 L572.1,218.6 L577.4,212.1 L580.1,209.5 L582.3,208.1 L588.1,206.7 L597.0,206.1 L599.1,206.7 L602.7,209.4 L603.4,209.5 L604.0,209.1 L605.0,206.1 L605.6,198.9 L605.9,176.6 L605.3,161.9 L604.5,157.0 L603.5,155.3 L602.1,155.7 L598.1,158.5 L584.5,161.2 L575.6,164.3 L567.4,168.9 L564.8,171.1 L562.1,174.5 L560.2,179.7 L559.8,185.5 L560.2,188.9 L563.5,200.0 L563.7,202.8 L563.4,203.9 L562.4,204.9 L557.9,206.7 L556.4,208.1 L553.3,214.6 L552.4,217.6 L552.2,220.2 L552.5,221.4 L553.7,223.6 L557.3,226.9 L561.4,229.1Z" fill="#ddb574" stroke="#fff" stroke-width="0.9" fill-rule="evenodd"/>
<path d="M569.7,187.5 L571.4,188.2 L579.4,188.5 L582.4,189.5 L586.8,192.9 L595.8,201.3 L601.1,204.6 L603.4,204.8 L604.5,203.5 L605.0,202.1 L605.8,193.9 L605.8,178.4 L605.3,172.2 L604.5,168.9 L604.0,168.2 L602.7,168.0 L599.1,169.8 L597.0,170.2 L585.2,168.5 L582.4,168.9 L579.5,170.0 L573.8,173.9 L570.5,177.2 L569.2,179.1 L568.4,181.2 L568.2,184.2 L568.7,186.1Z M558.1,214.7 L557.7,219.0 L558.3,222.4 L559.1,224.0 L560.4,225.1 L563.1,226.0 L565.8,226.1 L567.1,225.4 L567.8,223.7 L568.5,219.8 L568.4,215.8 L567.7,214.1 L565.4,212.9 L561.9,212.8 L559.0,213.6Z" fill="#b97d2f" stroke="#fff" stroke-width="0.9" fill-rule="evenodd"/>
<path d="M588.8,170.7 L589.4,174.0 L591.7,178.2 L593.6,180.0 L596.0,181.4 L597.4,181.8 L598.3,181.5 L598.7,180.0 L598.6,176.0 L597.8,172.0 L597.0,170.2 L595.6,169.3 L592.7,169.0 L590.0,169.5Z" fill="#8b5022" stroke="#fff" stroke-width="0.9" fill-rule="evenodd"/>
<path d="M169.2,132.4 L169.4,134.0 L170.9,137.3 L176.1,144.7 L178.2,148.2 L183.4,159.8 L184.4,164.8 L184.0,166.4 L182.1,168.2 L178.6,169.4 L171.1,171.2 L169.5,172.2 L169.7,173.3 L173.2,175.4 L195.5,184.6 L202.6,187.2 L208.9,188.7 L211.4,188.8 L213.4,188.4 L214.9,187.6 L216.0,186.4 L219.8,179.9 L221.3,178.4 L223.4,177.1 L229.5,175.5 L238.3,174.6 L253.9,174.1 L276.0,174.3 L299.2,177.5 L318.9,178.9 L335.4,179.5 L345.8,179.0 L363.7,176.2 L369.0,176.2 L371.6,176.6 L376.3,178.3 L388.6,184.5 L392.8,185.0 L414.5,197.8 L429.9,205.9 L442.1,211.5 L449.8,214.1 L456.7,215.5 L460.8,215.7 L466.4,214.8 L471.3,225.2 L474.6,230.7 L476.3,232.5 L480.0,235.2 L481.9,235.9 L485.6,236.3 L489.1,235.2 L490.6,234.1 L492.0,232.7 L493.0,230.7 L494.1,225.0 L495.1,213.8 L496.5,205.9 L497.7,202.1 L499.3,198.7 L501.4,195.6 L504.1,192.4 L510.3,186.1 L529.8,168.9 L542.6,154.8 L548.3,149.2 L552.7,146.1 L559.3,142.7 L566.1,140.3 L578.0,137.1 L597.1,134.3 L599.8,134.9 L603.1,138.0 L603.7,138.2 L604.1,137.7 L605.3,130.8 L605.8,113.8 L605.7,93.8 L604.8,76.1 L602.8,78.8 L599.0,80.4 L567.9,88.2 L553.1,91.1 L544.4,92.1 L531.6,92.9 L498.0,93.0 L481.3,92.3 L468.7,91.1 L455.6,89.1 L442.4,86.5 L430.0,83.5 L422.6,81.3 L405.0,72.2 L398.2,70.2 L394.3,69.8 L384.9,70.5 L357.4,76.6 L346.7,78.3 L341.8,78.4 L337.0,78.1 L328.0,76.3 L307.0,69.6 L303.0,68.5 L295.4,67.4 L288.0,66.8 L277.5,66.9 L255.5,68.7 L247.0,70.2 L241.9,71.6 L237.3,73.8 L233.5,76.8 L228.7,82.7 L220.8,94.9 L214.1,107.3 L209.7,111.7 L203.9,115.1 L188.6,122.0 L173.7,127.5 L170.4,129.7 L169.5,131.0Z M414.8,166.1 L409.6,164.2 L409.6,163.3 L423.2,142.0 L427.6,136.6 L432.1,133.0 L437.6,130.9 L440.7,130.2 L447.0,129.8 L450.2,129.9 L455.7,130.9 L459.9,132.9 L461.6,134.5 L463.7,138.3 L464.8,143.2 L465.3,151.7 L465.2,160.6 L461.2,177.1 L460.0,184.2 L460.0,191.4 L460.9,197.4 L460.3,197.9 L452.1,199.5 L447.3,199.4 L443.0,198.2 L438.3,196.3 L429.6,191.4 L424.8,187.5 L421.6,183.0 L417.0,173.0 L416.3,167.5Z M450.9,252.6 L450.9,255.8 L451.6,259.1 L452.7,261.7 L454.3,263.2 L458.4,264.1 L463.2,263.8 L466.7,262.6 L467.9,260.9 L468.8,257.1 L468.7,254.4 L468.0,252.1 L466.4,250.6 L463.4,249.5 L459.7,248.8 L454.3,248.6 L452.1,249.3 L451.5,250.1Z M444.0,238.2 L444.1,240.2 L445.7,242.9 L447.4,244.0 L450.3,244.4 L458.8,244.1 L464.2,243.1 L466.1,242.1 L467.0,239.5 L466.7,237.5 L465.7,235.8 L464.0,234.7 L461.1,234.2 L454.5,234.3 L448.1,235.2 L445.4,236.0 L444.7,236.6Z M301.0,274.9 L302.6,278.5 L305.9,282.2 L312.2,286.8 L317.3,288.9 L320.2,288.8 L324.5,287.3 L332.9,282.8 L345.3,273.6 L349.9,271.6 L352.2,271.3 L355.0,271.5 L360.6,273.3 L372.6,279.4 L377.6,281.5 L381.4,281.8 L384.6,280.6 L387.2,278.5 L388.7,276.1 L389.0,275.0 L388.8,274.0 L388.2,273.2 L385.0,272.2 L370.1,270.8 L363.0,269.2 L360.1,267.3 L357.7,264.9 L356.4,262.4 L356.5,260.1 L358.4,258.6 L363.1,258.1 L383.2,259.1 L389.9,259.0 L392.2,258.6 L393.9,257.9 L396.2,256.0 L397.3,253.5 L397.1,251.0 L395.5,248.8 L394.2,248.0 L390.2,246.8 L363.0,244.0 L334.9,237.5 L328.6,237.0 L326.4,237.3 L325.1,238.2 L324.5,239.6 L324.5,241.3 L327.1,250.1 L327.4,252.4 L327.3,254.6 L326.4,256.7 L322.3,260.2 L304.1,270.0 L302.2,271.6 L301.2,273.2Z M201.5,254.0 L201.8,257.8 L203.0,261.7 L204.9,264.8 L207.7,266.7 L214.8,268.4 L223.0,268.7 L227.2,267.9 L228.7,267.3 L230.5,264.7 L231.2,262.9 L231.7,258.7 L231.3,254.5 L229.8,251.1 L228.7,250.0 L227.1,249.2 L219.1,248.0 L212.7,248.0 L207.1,248.7 L203.4,250.0 L202.5,251.0Z M99.0,11.1 L99.7,12.8 L101.0,13.7 L102.8,14.2 L107.6,14.6 L116.1,14.2 L117.7,13.6 L118.6,11.9 L118.5,10.6 L117.7,9.4 L116.3,8.6 L113.8,8.3 L108.2,8.4 L101.4,9.0 L99.8,9.6Z" fill="#6dc3b5" stroke="#fff" stroke-width="0.9" fill-rule="evenodd"/>
<path d="M186.1,133.0 L184.3,137.0 L183.8,139.5 L183.7,144.7 L184.3,149.9 L185.4,154.4 L187.8,158.8 L190.0,160.5 L192.9,161.7 L210.2,167.7 L219.2,170.2 L230.0,172.2 L238.8,173.0 L301.0,174.9 L316.0,175.8 L321.8,176.7 L325.7,178.0 L331.8,181.0 L335.7,181.9 L338.4,182.2 L345.4,181.9 L371.2,178.6 L378.2,178.2 L383.8,178.6 L395.3,181.9 L398.2,182.2 L401.3,181.5 L403.0,180.0 L410.8,168.1 L414.0,161.5 L415.5,156.3 L416.0,153.1 L416.0,128.9 L416.7,122.1 L417.5,119.7 L418.7,117.8 L420.1,116.4 L423.2,115.0 L427.1,114.5 L449.7,113.6 L456.7,114.8 L458.8,115.7 L462.4,118.2 L465.7,121.6 L468.8,125.7 L479.0,141.1 L488.9,159.7 L494.2,174.3 L495.9,176.2 L496.9,176.4 L497.9,176.1 L499.9,174.7 L504.5,169.4 L507.3,166.8 L520.1,158.9 L525.1,154.8 L525.9,153.5 L525.9,152.4 L525.4,151.2 L523.0,148.9 L518.4,145.6 L516.6,143.1 L516.6,142.1 L517.8,139.9 L520.1,137.6 L523.4,135.2 L529.5,132.0 L539.9,128.1 L549.5,125.4 L560.1,123.4 L567.6,122.8 L572.0,123.0 L595.3,125.2 L599.2,125.0 L602.5,124.3 L605.0,123.0 L606.7,120.8 L607.7,117.8 L608.2,110.2 L607.4,101.8 L605.0,89.0 L604.9,86.1 L602.8,87.9 L599.0,89.1 L562.7,97.6 L527.4,105.4 L519.0,106.8 L510.6,107.7 L493.8,108.0 L481.3,107.2 L464.4,105.0 L446.8,101.4 L434.0,97.8 L426.2,95.1 L422.6,93.4 L416.5,89.3 L408.0,82.5 L401.8,78.7 L398.2,77.3 L394.3,76.5 L389.7,76.1 L379.7,76.7 L341.7,83.1 L313.6,86.4 L302.2,86.8 L296.8,85.8 L294.8,84.7 L292.3,81.8 L289.8,76.9 L287.5,74.5 L283.7,73.4 L276.0,73.1 L270.4,73.7 L265.1,74.8 L260.6,76.4 L258.9,77.6 L256.0,80.6 L250.4,89.8 L246.6,94.5 L232.7,105.7 L216.0,119.9 L208.9,124.2 L194.6,128.4 L189.7,130.2 L187.7,131.5Z" fill="#2a9283" stroke="#fff" stroke-width="0.9" fill-rule="evenodd"/>
<path d="M417.5,123.0 L416.1,127.5 L415.4,133.5 L415.5,143.4 L416.5,155.7 L417.8,164.2 L419.8,172.3 L423.0,181.7 L426.5,190.0 L428.5,193.5 L430.9,196.4 L433.5,198.3 L436.8,199.5 L440.4,200.1 L445.6,199.9 L451.4,198.9 L455.1,197.7 L458.3,194.8 L460.8,189.1 L462.9,179.3 L464.7,164.2 L466.1,149.2 L466.3,139.4 L465.4,132.9 L462.6,125.5 L459.4,121.0 L456.8,118.6 L453.8,116.9 L448.0,115.7 L439.5,115.9 L425.3,117.7 L421.6,119.0 L420.0,120.0Z" fill="#6dc3b5" stroke="#fff" stroke-width="0.9" fill-rule="evenodd"/>
<path d="M422.1,127.7 L421.4,129.4 L420.6,133.8 L420.6,141.8 L422.7,166.9 L424.1,174.9 L425.5,179.5 L427.3,183.4 L429.6,187.0 L432.2,190.0 L436.1,193.3 L438.7,194.7 L441.4,195.4 L444.2,195.4 L447.0,194.8 L450.8,192.8 L455.1,188.1 L457.9,182.8 L460.0,176.2 L461.8,163.3 L462.3,148.9 L461.8,140.4 L459.9,132.1 L457.5,127.4 L454.2,124.0 L451.1,122.4 L445.9,121.2 L438.8,121.0 L433.3,121.6 L429.5,122.5 L424.5,124.9Z" fill="#addcd6" stroke="#fff" stroke-width="0.9" fill-rule="evenodd"/>
<path d="M427.5,133.0 L426.8,135.0 L426.1,140.3 L426.4,153.4 L428.5,168.7 L431.5,180.4 L434.4,187.2 L436.6,190.0 L437.9,190.7 L440.6,191.4 L443.5,191.2 L446.3,190.4 L451.9,187.9 L454.7,185.5 L456.8,181.4 L457.8,177.3 L458.7,168.4 L458.9,155.1 L458.3,145.0 L456.7,137.2 L454.9,132.8 L453.2,130.6 L451.1,129.1 L447.4,127.9 L443.4,127.6 L434.0,128.2 L430.9,129.3 L429.5,130.2Z" fill="#e5f3f2" stroke="#fff" stroke-width="0.9" fill-rule="evenodd"/>
<path d="M431.4,137.0 L430.3,142.3 L430.0,153.9 L431.1,169.8 L432.9,180.5 L435.0,186.7 L437.7,190.7 L440.0,191.9 L444.4,191.8 L447.8,190.5 L450.7,188.1 L452.7,184.8 L453.9,179.9 L454.6,173.2 L454.6,162.3 L454.1,152.9 L452.9,145.7 L451.8,141.4 L450.3,137.9 L448.5,135.2 L446.1,133.5 L441.0,132.2 L437.1,132.5 L433.8,133.9 L432.4,135.2Z" fill="#f8f3e2" stroke="#fff" stroke-width="0.9" fill-rule="evenodd"/>
<path d="M435.0,144.7 L434.6,146.0 L434.8,148.4 L435.7,150.5 L436.7,151.2 L439.4,151.7 L442.5,151.6 L444.7,150.9 L445.6,149.9 L446.3,146.7 L446.1,145.3 L445.4,144.3 L442.9,143.6 L439.2,143.5 L436.1,144.0Z" fill="#efdca6" stroke="#fff" stroke-width="0.9" fill-rule="evenodd"/>
<path d="M481.5,120.9 L480.3,125.0 L480.2,127.4 L481.0,132.6 L482.7,137.2 L483.9,139.0 L485.3,140.3 L487.1,141.0 L489.5,141.6 L495.5,141.8 L502.0,141.3 L507.8,140.0 L511.9,138.3 L513.2,137.1 L515.0,133.7 L515.8,129.6 L515.4,125.5 L513.8,122.1 L512.6,121.0 L510.7,120.1 L501.2,118.3 L490.2,117.9 L484.5,118.8 L482.6,119.7Z M220.0,140.4 L226.3,160.3 L226.4,163.4 L226.9,164.7 L230.0,166.2 L234.1,166.9 L295.1,170.1 L338.4,170.2 L365.7,172.2 L375.0,171.6 L384.5,169.4 L396.6,165.0 L404.4,161.0 L407.5,158.9 L410.8,155.9 L413.6,151.4 L416.1,143.9 L418.5,127.2 L419.9,120.8 L422.2,116.3 L425.1,114.0 L426.8,113.4 L430.3,113.1 L440.2,113.7 L487.1,114.6 L491.9,113.9 L493.2,113.1 L493.9,111.4 L492.4,108.4 L489.3,106.1 L482.9,107.2 L476.6,107.0 L453.4,103.7 L440.9,100.6 L434.4,97.6 L431.4,95.5 L426.3,90.8 L419.2,83.5 L414.6,79.7 L409.8,77.7 L405.1,77.0 L400.5,77.4 L385.5,80.3 L367.9,85.1 L358.4,87.1 L351.4,87.8 L326.2,88.7 L314.8,90.5 L305.4,93.0 L297.3,95.8 L287.9,101.1 L284.8,102.2 L281.6,102.3 L279.8,102.0 L271.1,98.4 L267.5,97.3 L263.7,97.1 L259.9,97.4 L252.0,99.3 L235.1,104.4 L229.0,107.0 L224.9,110.2 L223.4,112.8 L222.6,115.7 L219.4,133.6Z" fill="#15665a" stroke="#fff" stroke-width="0.9" fill-rule="evenodd"/>
<path d="M350.1,120.0 L350.3,121.0 L351.8,122.9 L356.4,126.8 L358.3,128.9 L362.2,137.5 L364.3,140.9 L368.9,146.4 L372.6,148.9 L375.6,149.6 L379.6,149.5 L384.6,148.8 L389.7,147.5 L394.3,145.6 L396.1,144.4 L398.6,141.2 L399.8,136.9 L400.1,131.8 L399.6,124.1 L398.5,117.7 L396.8,112.0 L395.1,108.7 L393.0,106.0 L390.3,104.4 L386.7,103.9 L382.2,104.5 L375.0,106.6 L366.2,109.8 L359.6,112.6 L353.7,115.8 L351.1,118.0Z" fill="#2a9283" stroke="#fff" stroke-width="0.9" fill-rule="evenodd"/>
<path d="M371.0,125.8 L370.4,129.1 L371.4,132.9 L373.6,135.6 L376.0,136.6 L382.9,137.5 L388.9,137.0 L391.4,135.4 L393.2,132.1 L393.5,128.8 L392.6,125.0 L390.8,122.6 L388.9,121.7 L384.1,121.6 L377.8,122.6 L372.6,124.3Z" fill="#6dc3b5" stroke="#fff" stroke-width="0.9" fill-rule="evenodd"/>
<path d="M236.7,133.0 L237.1,134.1 L238.9,136.1 L245.8,140.6 L247.9,142.8 L249.1,145.9 L250.3,154.3 L251.2,157.1 L252.9,159.1 L256.2,160.7 L274.0,163.2 L294.9,164.4 L313.7,164.6 L319.1,164.2 L325.7,163.0 L353.4,154.5 L356.3,152.9 L358.8,150.9 L362.6,146.0 L364.1,142.1 L364.0,138.5 L362.3,134.8 L357.6,127.9 L350.7,119.8 L350.2,118.2 L350.4,116.8 L352.1,114.5 L356.3,112.2 L368.3,109.0 L390.2,101.1 L411.5,97.1 L414.0,96.0 L416.4,94.2 L417.4,92.9 L417.5,91.1 L416.6,89.9 L414.1,88.0 L410.4,86.5 L407.5,85.8 L398.5,85.0 L390.2,85.4 L384.5,86.8 L373.2,91.8 L365.5,94.0 L311.7,103.2 L300.7,105.6 L283.2,111.0 L249.3,116.7 L246.4,117.6 L244.0,119.0 L240.6,122.6 L238.6,125.6 L237.2,128.7Z" fill="#0e3b31" stroke="#fff" stroke-width="0.9" fill-rule="evenodd"/>
<path d="M33.2,0 V332.4 M66.5,0 V332.4 M99.7,0 V332.4 M133.0,0 V332.4 M166.2,0 V332.4 M199.4,0 V332.4 M232.7,0 V332.4 M265.9,0 V332.4 M299.2,0 V332.4 M332.4,0 V332.4 M365.6,0 V332.4 M398.9,0 V332.4 M432.1,0 V332.4 M465.4,0 V332.4 M498.6,0 V332.4 M531.8,0 V332.4 M565.1,0 V332.4" stroke="#9a9a9a" stroke-width="1.1" stroke-dasharray="3.8,4.76" stroke-dashoffset="4.56" fill="none"/>
<path d="M0,33.2 H598.3 M0,66.5 H598.3 M0,99.7 H598.3 M0,133.0 H598.3 M0,166.2 H598.3 M0,199.4 H598.3 M0,232.7 H598.3 M0,265.9 H598.3 M0,299.2 H598.3" stroke="#9a9a9a" stroke-width="1.1" stroke-dasharray="3.8,4.76" stroke-dashoffset="0.36" fill="none"/>
<use href="#coast" fill="none" stroke="#000" stroke-width="1.5" stroke-linejoin="round"/>
</g>
<rect x="0" y="0" width="598.3" height="332.4" fill="none" stroke="#000" stroke-width="2.6"/>
<line x1="0.0" y1="332.4" x2="0.0" y2="338.4" stroke="#000" stroke-width="1.6" stroke-linecap="round"/>
<line x1="66.5" y1="332.4" x2="66.5" y2="344.4" stroke="#000" stroke-width="3" stroke-linecap="round"/>
<line x1="133.0" y1="332.4" x2="133.0" y2="338.4" stroke="#000" stroke-width="1.6" stroke-linecap="round"/>
<line x1="199.4" y1="332.4" x2="199.4" y2="338.4" stroke="#000" stroke-width="1.6" stroke-linecap="round"/>
<line x1="265.9" y1="332.4" x2="265.9" y2="344.4" stroke="#000" stroke-width="3" stroke-linecap="round"/>
<line x1="332.4" y1="332.4" x2="332.4" y2="338.4" stroke="#000" stroke-width="1.6" stroke-linecap="round"/>
<line x1="398.9" y1="332.4" x2="398.9" y2="338.4" stroke="#000" stroke-width="1.6" stroke-linecap="round"/>
<line x1="465.4" y1="332.4" x2="465.4" y2="344.4" stroke="#000" stroke-width="3" stroke-linecap="round"/>
<line x1="531.8" y1="332.4" x2="531.8" y2="338.4" stroke="#000" stroke-width="1.6" stroke-linecap="round"/>
<line x1="598.3" y1="332.4" x2="598.3" y2="338.4" stroke="#000" stroke-width="1.6" stroke-linecap="round"/>
<line x1="0.0" y1="332.4" x2="-6.0" y2="332.4" stroke="#000" stroke-width="1.6" stroke-linecap="round"/>
<line x1="0.0" y1="299.2" x2="-6.0" y2="299.2" stroke="#000" stroke-width="1.6" stroke-linecap="round"/>
<line x1="0.0" y1="265.9" x2="-12.0" y2="265.9" stroke="#000" stroke-width="3" stroke-linecap="round"/>
<line x1="0.0" y1="232.7" x2="-6.0" y2="232.7" stroke="#000" stroke-width="1.6" stroke-linecap="round"/>
<line x1="0.0" y1="199.4" x2="-6.0" y2="199.4" stroke="#000" stroke-width="1.6" stroke-linecap="round"/>
<line x1="0.0" y1="166.2" x2="-6.0" y2="166.2" stroke="#000" stroke-width="1.6" stroke-linecap="round"/>
<line x1="0.0" y1="133.0" x2="-12.0" y2="133.0" stroke="#000" stroke-width="3" stroke-linecap="round"/>
<line x1="0.0" y1="99.7" x2="-6.0" y2="99.7" stroke="#000" stroke-width="1.6" stroke-linecap="round"/>
<line x1="0.0" y1="66.5" x2="-6.0" y2="66.5" stroke="#000" stroke-width="1.6" stroke-linecap="round"/>
<line x1="0.0" y1="33.2" x2="-6.0" y2="33.2" stroke="#000" stroke-width="1.6" stroke-linecap="round"/>
<line x1="0.0" y1="0.0" x2="-12.0" y2="0.0" stroke="#000" stroke-width="3" stroke-linecap="round"/>
<text transform="translate(66.5,367.0) scale(0.9,1)" font-size="16.8" text-anchor="middle">90E</text>
<text transform="translate(265.9,367.0) scale(0.9,1)" font-size="16.8" text-anchor="middle">120E</text>
<text transform="translate(465.4,367.0) scale(0.9,1)" font-size="16.8" text-anchor="middle">150E</text>
<text transform="translate(-22,5.9) scale(0.9,1)" font-size="16.8" text-anchor="end">60N</text>
<text transform="translate(-22,138.9) scale(0.9,1)" font-size="16.8" text-anchor="end">40N</text>
<text transform="translate(-22,271.8) scale(0.9,1)" font-size="16.8" text-anchor="end">20N</text>
</g>
<g transform="translate(709.5,480.5)">
<g clip-path="url(#pc)">
<rect x="0" y="0" width="598.3" height="332.4" fill="#e5f3f2"/>
<path d="M527.8,166.8 L530.9,164.7 L531.8,164.7 L532.5,165.5 L533.0,168.5 L533.0,175.5 L533.6,180.5 L535.1,185.0 L536.5,186.8 L538.3,188.3 L542.9,190.6 L558.0,195.1 L564.4,197.5 L599.6,214.1 L601.4,215.2 L602.7,216.7 L603.6,218.4 L604.7,221.9 L605.4,199.2 L605.6,165.1 L605.4,131.1 L604.7,109.3 L604.2,112.0 L602.8,115.6 L601.4,117.2 L599.7,118.3 L575.4,126.5 L564.4,131.0 L551.8,137.5 L540.7,144.7 L534.8,150.1 L532.1,154.2 L529.4,160.3Z M500.8,20.7 L501.0,24.8 L503.1,30.6 L505.2,33.2 L508.7,34.7 L513.4,35.4 L518.5,35.6 L525.1,34.6 L527.6,32.9 L528.5,31.6 L529.8,28.3 L530.2,24.5 L529.6,21.1 L527.9,18.6 L524.0,17.1 L515.1,15.6 L506.3,15.6 L502.6,16.6 L501.6,17.6Z M-42.6,28.3 L-42.0,44.3 L-37.4,61.1 L-30.4,78.0 L-9.1,120.3 L-6.7,129.0 L-5.9,139.0 L-3.1,131.3 L-1.7,129.7 L0.1,129.0 L63.8,125.0 L86.4,124.4 L95.0,123.0 L101.8,120.1 L113.8,111.8 L128.3,104.0 L138.4,99.0 L148.3,95.1 L161.1,91.9 L183.4,88.6 L202.8,86.5 L211.4,84.4 L216.5,82.3 L223.3,78.3 L227.4,75.1 L232.7,69.8 L235.3,65.4 L240.5,50.4 L241.8,48.2 L245.1,45.0 L249.1,42.6 L256.0,40.2 L276.7,35.9 L284.3,34.8 L291.4,34.3 L297.1,34.9 L299.2,36.0 L300.3,37.5 L300.5,39.7 L300.2,42.2 L297.7,51.4 L297.0,57.1 L297.6,59.4 L299.2,61.2 L301.7,62.3 L305.0,63.2 L313.1,63.9 L341.7,63.8 L367.2,65.7 L380.0,66.0 L388.6,65.5 L402.3,64.1 L415.6,61.9 L423.4,60.1 L432.3,57.2 L438.4,54.0 L443.6,50.0 L451.8,42.2 L460.9,31.7 L468.7,21.3 L474.2,11.8 L479.5,-0.1 L482.0,-1.3 L487.7,-2.4 L514.8,-5.2 L515.4,-5.6 L448.2,-7.5 L296.6,-13.6 L236.3,-15.5 L176.1,-16.7 L118.7,-16.8 L67.2,-15.4 L24.5,-12.2 L-6.7,-6.6 L-26.4,2.0 L-37.9,14.0Z M325.8,202.8 L325.0,204.6 L324.4,209.1 L324.6,211.7 L325.8,216.7 L327.8,221.0 L329.1,222.7 L330.5,224.0 L333.8,226.0 L337.9,227.4 L343.0,228.3 L360.9,230.1 L376.9,231.0 L392.0,230.7 L398.9,229.4 L401.1,228.1 L402.8,226.5 L404.1,224.5 L405.0,222.2 L405.4,217.6 L404.9,214.9 L405.6,214.0 L445.4,210.7 L453.8,210.7 L469.9,211.4 L476.6,211.1 L479.5,210.4 L482.0,209.4 L484.2,207.9 L488.1,203.9 L489.7,201.4 L491.9,196.1 L492.3,193.4 L492.2,190.8 L491.4,188.3 L489.9,186.1 L487.6,184.1 L480.5,180.0 L465.9,174.3 L455.3,171.2 L445.4,168.9 L436.2,167.5 L427.0,167.0 L398.9,167.5 L373.5,166.6 L363.9,166.8 L355.7,168.2 L352.3,169.5 L349.5,171.5 L347.0,174.0 L344.9,177.1 L341.5,184.0 L339.5,191.1 L338.8,198.8 L338.2,199.2 L333.8,199.4 L328.9,200.5 L327.1,201.4Z M451.1,221.9 L451.2,224.0 L452.1,228.1 L454.1,231.5 L457.2,233.6 L465.4,235.6 L475.0,236.3 L480.2,235.9 L482.0,235.3 L484.5,233.1 L485.4,231.5 L486.5,227.8 L486.5,223.9 L486.0,222.1 L485.2,220.6 L484.0,219.4 L479.6,217.6 L472.8,216.2 L461.8,215.2 L455.9,215.5 L454.1,216.1 L452.8,217.0 L451.9,218.4Z M399.0,239.1 L398.9,242.8 L400.5,246.5 L403.6,249.6 L408.2,251.4 L420.6,253.0 L435.1,253.2 L442.8,252.6 L445.4,252.0 L447.4,251.0 L449.0,249.7 L450.3,248.1 L451.7,244.5 L451.4,240.8 L450.6,239.1 L449.3,237.7 L447.4,236.7 L440.7,235.2 L430.7,234.3 L414.2,234.1 L405.6,234.7 L402.9,235.3 L401.1,236.3 L399.8,237.6Z M251.0,243.8 L252.3,248.1 L255.9,255.9 L258.1,262.2 L260.7,266.3 L263.8,268.4 L265.9,269.3 L272.2,271.0 L280.6,272.7 L289.4,273.7 L293.6,273.8 L297.3,273.4 L300.9,272.5 L303.5,273.0 L325.3,273.8 L335.2,273.8 L344.1,273.0 L347.7,272.3 L350.3,271.2 L352.4,269.8 L355.6,265.5 L357.2,260.2 L357.4,257.5 L357.0,255.0 L356.1,252.7 L354.6,250.7 L352.3,249.3 L344.4,247.4 L332.5,246.2 L319.2,245.9 L305.5,246.6 L304.8,246.1 L303.1,240.7 L301.4,237.5 L299.1,235.3 L296.1,233.9 L292.1,233.1 L287.2,232.6 L276.2,232.9 L260.6,235.3 L254.0,237.3 L252.2,238.5 L251.2,240.1 L250.8,241.9Z M258.2,216.3 L259.3,219.7 L261.3,222.1 L264.8,223.3 L271.1,223.7 L273.7,223.2 L275.3,222.0 L276.8,218.4 L277.2,214.2 L276.5,212.1 L274.9,211.0 L271.7,210.6 L267.5,210.8 L261.7,211.8 L259.3,212.7 L258.3,214.2Z M47.5,324.3 L47.8,326.0 L49.2,329.1 L51.6,331.6 L55.2,333.0 L61.2,333.9 L72.3,334.2 L81.3,333.1 L83.1,332.4 L84.2,331.3 L85.4,328.0 L85.2,323.8 L83.8,319.8 L81.3,316.7 L79.8,315.8 L77.7,315.3 L68.1,315.2 L60.7,316.1 L54.1,317.5 L49.9,319.1 L48.7,320.1 L48.0,321.4Z M-8.6,281.8 L-8.7,287.4 L-8.1,292.4 L-6.6,295.8 L-5.4,296.8 L-3.8,297.4 L2.7,297.7 L11.6,296.2 L20.5,294.0 L22.5,292.6 L23.1,291.7 L23.3,289.2 L22.7,287.4 L20.1,282.5 L16.4,276.7 L10.2,268.9 L6.7,265.9 L5.1,265.3 L3.5,265.1 L0.4,265.6 L-2.4,267.3 L-4.9,269.7 L-7.3,274.3Z" fill="#f8f3e2" stroke="#fff" stroke-width="0.9" fill-rule="evenodd"/>
<path d="M604.9,208.5 L605.6,163.2 L604.9,117.8 L603.3,120.4 L601.8,121.8 L599.7,123.0 L571.7,134.7 L561.5,139.6 L553.8,144.3 L548.7,148.7 L546.7,150.9 L543.8,155.4 L542.0,159.9 L541.1,166.2 L542.0,172.0 L543.8,175.7 L548.7,181.1 L553.8,184.8 L561.5,188.8 L571.7,193.2 L599.7,203.5 L601.8,204.5 L603.3,205.8Z M376.6,14.0 L375.8,17.8 L376.3,22.2 L378.9,33.3 L379.4,44.2 L380.3,47.3 L381.1,48.7 L383.8,50.9 L387.9,52.8 L395.5,54.8 L400.8,55.4 L405.6,55.2 L409.6,53.9 L413.6,51.5 L421.3,45.8 L425.4,43.2 L443.0,36.9 L447.1,34.6 L450.2,31.6 L454.7,25.3 L456.7,20.7 L457.0,18.5 L456.7,16.5 L455.8,14.8 L454.1,13.3 L451.3,12.1 L447.5,11.1 L431.9,9.1 L414.8,8.2 L398.2,8.0 L391.5,8.4 L385.7,9.1 L381.0,10.5 L379.1,11.5 L377.6,12.6Z M380.6,174.4 L381.0,177.5 L383.0,180.8 L385.8,183.8 L388.9,186.1 L392.6,187.3 L407.5,188.3 L412.2,189.5 L416.3,191.9 L427.6,201.8 L429.3,202.9 L432.2,203.6 L434.7,203.1 L437.9,200.7 L442.1,196.1 L451.0,188.0 L453.9,184.3 L454.7,182.5 L454.8,180.9 L454.0,179.5 L452.4,178.2 L447.0,175.6 L435.3,172.3 L418.8,169.5 L406.6,169.0 L397.9,169.4 L390.1,170.2 L384.2,171.4 L382.3,172.2 L381.1,173.2Z M297.0,18.9 L296.5,22.5 L297.2,26.7 L299.5,34.1 L300.1,35.1 L300.9,35.6 L318.9,37.1 L327.3,37.0 L331.1,35.9 L332.2,34.9 L333.9,31.9 L334.6,28.1 L334.2,24.3 L332.5,21.1 L331.1,19.9 L329.0,19.0 L319.1,16.7 L307.4,15.8 L301.2,16.1 L299.2,16.6 L297.8,17.5Z M-23.5,8.2 L-26.1,18.6 L-25.8,30.1 L-23.4,42.2 L-19.7,54.3 L-8.1,84.9 L-6.7,91.1 L-6.3,97.8 L-5.5,94.6 L-3.8,91.8 L-2.1,91.0 L-0.0,91.1 L46.1,106.9 L61.8,112.7 L67.7,114.1 L73.8,114.3 L77.0,113.9 L83.3,112.0 L99.3,104.3 L105.7,101.7 L137.6,93.1 L166.3,81.6 L186.2,74.7 L204.0,69.1 L215.8,67.9 L219.4,66.6 L220.9,65.4 L222.0,63.8 L222.8,61.6 L222.9,55.8 L221.5,45.0 L221.0,38.0 L221.3,34.7 L222.0,32.0 L223.4,29.4 L225.1,27.1 L229.5,23.0 L243.3,12.6 L249.9,5.5 L254.1,-0.1 L255.6,-0.9 L258.9,-1.8 L271.3,-4.1 L273.7,-4.8 L274.0,-5.3 L265.2,-6.3 L237.9,-7.4 L156.4,-11.8 L124.0,-13.2 L91.6,-14.0 L60.8,-14.0 L33.1,-13.0 L10.1,-10.6 L-6.6,-6.6 L-17.3,-0.4Z" fill="#efdca6" stroke="#fff" stroke-width="0.9" fill-rule="evenodd"/>
<path d="M604.7,125.4 L602.7,128.8 L599.7,130.9 L578.5,140.5 L567.3,146.4 L557.6,153.4 L552.5,158.6 L550.3,162.2 L549.6,164.2 L548.9,168.4 L549.1,173.2 L550.2,178.4 L551.2,181.0 L554.1,185.7 L556.1,187.7 L558.4,189.5 L561.4,190.9 L569.6,193.2 L579.3,194.9 L599.7,197.5 L601.6,198.1 L603.1,199.0 L604.0,200.1 L604.8,201.9 L605.4,187.3 L605.6,164.2 L605.4,141.1Z M402.7,37.2 L402.3,39.2 L402.8,42.3 L403.6,44.0 L404.9,44.9 L408.5,45.6 L413.7,45.2 L415.5,44.5 L416.9,42.3 L417.3,38.1 L416.7,36.5 L415.4,35.5 L411.4,34.9 L406.7,35.0 L403.6,35.9Z M-24.9,13.1 L-24.7,22.1 L-22.4,31.6 L-18.9,41.1 L-7.8,65.6 L-9.0,70.3 L-9.6,76.4 L-9.3,82.6 L-7.9,87.4 L-6.6,89.1 L-4.9,90.1 L-2.6,90.8 L0.2,91.2 L6.7,91.2 L16.3,90.0 L23.0,88.5 L25.4,86.9 L29.5,81.7 L31.8,80.5 L35.1,79.7 L40.3,79.4 L53.2,79.8 L95.2,83.0 L109.0,82.9 L123.4,82.0 L135.1,80.7 L140.6,79.3 L140.9,78.7 L139.8,77.6 L135.0,75.7 L134.8,74.7 L135.5,74.0 L153.3,73.3 L176.8,71.0 L190.3,68.9 L201.4,65.8 L208.4,62.8 L214.1,59.2 L216.7,56.4 L218.1,53.2 L217.9,51.4 L217.1,49.4 L210.4,40.5 L207.7,36.0 L207.2,33.9 L207.4,32.1 L208.6,30.0 L213.0,26.3 L228.2,17.9 L232.7,14.6 L236.3,9.8 L237.6,6.6 L239.3,0.2 L240.6,-0.9 L243.7,-2.0 L255.1,-4.2 L257.4,-4.9 L257.6,-5.4 L249.3,-6.3 L116.3,-11.8 L85.8,-12.5 L56.8,-12.5 L30.7,-11.6 L9.1,-9.8 L-6.7,-6.6 L-16.7,-1.7 L-22.5,5.0Z" fill="#ddb574" stroke="#fff" stroke-width="0.9" fill-rule="evenodd"/>
<path d="M561.8,166.2 L562.0,167.6 L563.4,170.1 L567.6,173.5 L582.2,182.3 L600.9,191.5 L604.4,195.1 L605.2,187.4 L605.6,164.2 L605.2,141.0 L604.4,133.3 L600.9,136.9 L585.0,144.3 L575.0,150.3 L569.4,154.9 L564.6,159.9 L562.5,163.2Z M-22.9,0.0 L-22.7,3.1 L-20.7,6.3 L-17.6,9.5 L-7.9,17.6 L-6.7,19.2 L-5.9,21.1 L-3.1,19.4 L-0.0,19.3 L25.1,22.1 L38.3,24.7 L63.8,31.9 L90.4,36.3 L95.1,37.9 L97.6,40.0 L98.6,42.4 L99.6,47.8 L101.7,50.5 L109.6,56.1 L117.6,60.4 L127.0,63.8 L139.6,66.9 L154.3,69.4 L166.6,70.2 L169.5,69.8 L171.5,69.0 L172.7,67.8 L173.6,64.5 L173.6,56.5 L174.3,54.7 L175.6,53.2 L179.8,50.8 L197.4,45.3 L201.4,42.5 L202.6,40.8 L203.6,36.9 L203.0,25.7 L203.4,21.2 L205.6,14.4 L211.4,0.1 L212.8,-1.3 L215.5,-2.3 L227.9,-5.2 L228.2,-5.6 L212.1,-6.6 L129.9,-8.4 L75.6,-8.8 L26.6,-8.4 L7.4,-7.7 L-6.7,-6.6 L-15.6,-5.0 L-20.8,-2.7Z M-7.9,69.3 L-9.2,76.2 L-9.1,81.1 L-7.8,85.1 L-6.6,86.4 L-4.9,87.4 L0.2,88.5 L6.6,88.8 L13.3,88.6 L21.3,87.8 L25.1,86.9 L28.5,85.6 L31.1,84.1 L32.4,82.3 L31.9,80.4 L26.6,77.1 L-1.6,65.9 L-4.0,65.3 L-5.9,65.8 L-6.7,66.5Z" fill="#b97d2f" stroke="#fff" stroke-width="0.9" fill-rule="evenodd"/>
<path d="M603.6,137.9 L600.8,140.8 L589.3,148.7 L580.5,155.5 L576.3,160.2 L575.3,162.0 L574.9,164.5 L575.2,167.1 L576.4,169.6 L580.5,173.9 L588.7,179.2 L600.7,185.4 L603.8,188.4 L604.4,187.8 L604.7,186.6 L605.2,182.1 L605.6,163.2 L605.2,144.4 L604.5,138.6 L604.2,137.9Z M71.3,-5.3 L71.5,-4.7 L78.3,-1.8 L80.3,-0.2 L81.9,8.7 L83.3,11.3 L85.9,13.9 L89.8,16.4 L101.7,22.7 L107.3,26.5 L112.8,31.8 L123.1,43.4 L125.8,45.8 L135.9,51.1 L139.8,52.5 L143.1,53.2 L144.3,53.2 L145.6,52.2 L146.6,45.0 L147.3,43.6 L149.7,41.5 L178.6,27.3 L181.9,25.2 L184.8,22.8 L187.4,19.5 L189.6,15.2 L194.9,-0.1 L195.7,-1.3 L197.3,-2.4 L202.9,-4.7 L203.9,-5.2 L204.1,-5.6 L200.1,-6.3 L188.1,-6.9 L137.6,-7.5 L87.2,-6.9 L75.1,-6.3Z" fill="#8b5022" stroke="#fff" stroke-width="0.9" fill-rule="evenodd"/>
<path d="M585.4,176.2 L588.8,177.9 L599.7,180.2 L603.7,182.6 L604.4,182.2 L605.0,180.1 L605.5,175.4 L605.9,160.7 L605.4,151.4 L604.4,148.6 L602.6,148.2 L600.5,149.3 L594.1,155.1 L591.4,158.6 L588.2,163.8 L585.1,170.6 L584.5,173.7Z M110.0,-5.3 L110.5,-4.1 L114.0,-0.8 L115.9,8.8 L118.4,12.7 L122.9,16.3 L129.0,19.9 L135.5,22.6 L139.7,23.8 L146.3,24.6 L150.7,24.7 L155.0,24.2 L158.9,23.3 L162.5,21.5 L167.7,17.6 L171.8,13.2 L174.0,9.5 L173.8,6.1 L171.5,-0.0 L172.3,-1.7 L175.5,-4.7 L175.7,-5.3 L175.1,-5.8 L173.8,-6.3 L162.8,-7.2 L135.8,-7.4 L114.4,-6.6 L112.0,-6.3Z" fill="#563117" stroke="#fff" stroke-width="0.9" fill-rule="evenodd"/>
<path d="M146.8,276.6 L147.6,282.1 L150.5,290.1 L152.9,293.8 L156.2,296.0 L163.0,297.9 L169.7,297.8 L172.9,296.5 L174.0,295.3 L176.1,291.3 L176.8,291.1 L177.5,291.5 L184.4,301.1 L186.1,305.8 L186.3,308.7 L185.8,312.1 L181.9,327.5 L181.6,331.1 L182.1,334.3 L183.5,337.0 L186.1,339.0 L190.3,340.5 L196.0,341.5 L202.7,342.1 L218.1,342.4 L241.3,340.9 L252.6,339.1 L256.6,337.9 L260.2,336.3 L266.1,332.3 L269.5,334.5 L275.4,336.3 L285.0,337.9 L299.2,339.0 L347.3,341.1 L416.1,342.7 L453.7,343.2 L526.9,343.1 L558.9,342.3 L585.5,341.0 L605.0,339.0 L617.4,336.1 L624.6,332.0 L627.6,327.0 L627.2,321.6 L624.4,315.8 L620.0,310.0 L606.6,295.5 L605.0,292.5 L604.7,289.2 L603.6,291.2 L601.3,292.4 L575.7,290.6 L567.9,290.4 L550.9,291.6 L544.3,292.6 L538.2,294.2 L532.5,296.5 L530.0,298.2 L526.0,302.8 L520.7,311.0 L516.7,315.4 L514.2,316.9 L511.3,317.7 L507.7,317.9 L499.4,316.5 L489.9,313.6 L465.6,303.9 L457.8,300.3 L451.9,296.6 L448.8,294.0 L443.0,287.5 L440.5,283.6 L439.6,280.3 L440.1,278.4 L441.3,277.1 L443.3,275.9 L446.9,274.9 L457.0,273.7 L500.6,271.2 L522.3,267.9 L526.4,266.6 L527.5,266.0 L527.8,265.3 L527.4,264.4 L525.9,263.4 L517.9,260.0 L510.8,258.0 L503.8,256.8 L500.6,256.6 L494.5,257.4 L475.1,264.1 L468.6,265.3 L462.0,264.9 L442.4,260.8 L437.4,260.6 L434.2,261.9 L432.4,264.1 L429.6,269.3 L426.9,271.2 L416.9,273.5 L408.1,274.1 L402.9,273.7 L399.0,272.3 L396.3,269.6 L391.1,261.0 L388.2,258.6 L382.6,256.4 L378.4,255.5 L373.9,255.3 L369.3,255.9 L364.7,257.7 L362.5,259.2 L350.7,269.9 L345.0,274.1 L341.7,275.9 L329.4,280.2 L302.5,287.4 L296.4,289.6 L290.3,292.5 L286.2,295.4 L279.5,302.5 L274.9,308.5 L272.4,313.4 L271.7,313.8 L270.9,313.5 L262.1,303.6 L259.3,299.2 L254.4,286.3 L252.7,278.0 L252.6,272.6 L253.3,269.8 L254.5,266.7 L264.7,249.0 L265.1,247.2 L264.6,246.0 L263.2,245.5 L258.3,246.4 L239.9,253.2 L232.7,254.6 L229.3,254.6 L222.4,253.7 L208.4,250.4 L202.2,249.4 L194.4,249.6 L188.0,250.8 L184.5,252.4 L182.9,253.5 L180.2,256.6 L179.0,258.7 L177.2,264.1 L175.5,274.1 L175.1,274.8 L174.2,274.9 L168.5,272.5 L161.8,270.9 L152.2,270.2 L149.8,270.5 L148.3,271.2 L147.3,272.5Z M-6.6,168.9 L-8.4,170.8 L-9.8,173.5 L-10.8,176.8 L-11.6,184.2 L-10.8,191.5 L-9.8,194.8 L-8.4,197.5 L-6.6,199.5 L-4.2,200.7 L-0.9,201.7 L3.0,202.2 L12.0,202.4 L25.9,200.8 L35.6,198.0 L41.2,206.7 L47.0,213.6 L53.2,219.4 L60.9,224.2 L70.6,228.6 L80.7,232.1 L89.4,234.5 L94.9,235.4 L100.5,243.9 L102.8,246.2 L105.7,248.0 L109.3,248.9 L122.5,249.2 L126.9,249.9 L131.5,252.0 L142.9,259.0 L146.6,260.5 L148.3,260.6 L150.9,259.4 L153.0,256.9 L154.6,253.5 L156.0,247.8 L156.1,242.0 L154.7,235.4 L152.4,227.3 L152.9,226.2 L162.5,227.4 L168.3,227.7 L186.1,227.5 L209.1,226.2 L215.5,225.4 L224.0,223.6 L232.7,220.7 L243.0,216.2 L253.5,210.5 L262.4,205.0 L266.2,202.0 L267.4,200.5 L269.3,193.9 L271.1,192.0 L274.6,191.1 L277.2,191.1 L293.3,193.2 L299.6,193.3 L302.5,192.8 L305.1,191.9 L309.8,189.2 L318.8,182.0 L323.4,178.7 L328.3,176.5 L336.2,174.1 L355.0,170.4 L378.9,167.5 L398.1,164.0 L408.6,162.9 L419.9,163.5 L444.4,168.0 L452.1,168.9 L462.9,168.5 L479.6,166.5 L485.3,166.2 L490.1,166.6 L503.2,169.4 L512.3,169.5 L519.7,168.9 L526.2,167.1 L529.2,165.0 L530.2,163.5 L533.7,152.1 L536.5,148.3 L543.2,142.9 L551.8,137.5 L561.2,132.5 L571.5,128.0 L599.7,118.3 L601.4,118.1 L602.8,118.8 L604.2,120.9 L604.7,123.0 L605.4,102.7 L605.6,71.7 L605.4,40.8 L604.7,20.7 L603.6,24.4 L602.7,25.9 L601.2,26.9 L597.4,27.2 L577.3,26.1 L564.4,27.3 L554.6,29.7 L520.8,40.6 L511.3,42.5 L507.1,42.7 L499.9,41.6 L487.6,37.3 L482.1,36.0 L476.6,36.2 L468.7,38.1 L463.9,40.3 L459.7,43.1 L456.1,46.5 L454.7,48.7 L453.1,54.2 L451.2,66.8 L449.2,71.8 L447.5,73.7 L445.2,75.3 L440.2,77.2 L430.9,78.5 L415.5,78.4 L406.5,77.8 L374.5,73.1 L363.0,71.8 L349.9,71.2 L320.6,71.0 L308.1,70.1 L303.0,69.2 L299.2,67.8 L296.9,66.0 L295.6,63.1 L295.6,60.1 L296.2,56.8 L299.7,46.5 L300.4,43.6 L300.3,41.4 L299.1,39.9 L297.0,39.1 L294.3,38.9 L290.9,39.2 L283.2,40.8 L256.9,49.2 L250.4,52.1 L246.7,54.4 L243.3,57.2 L240.9,60.5 L237.1,70.7 L234.5,74.7 L230.4,78.1 L224.9,81.2 L204.7,89.6 L166.3,107.0 L108.9,129.5 L91.9,137.5 L81.8,142.9 L76.1,146.5 L72.0,150.0 L69.8,153.6 L66.8,162.4 L63.9,166.1 L58.2,169.8 L51.6,173.0 L44.1,171.0 L11.7,166.9 L2.8,166.6 L-1.0,166.9 L-4.2,167.6Z M496.3,185.9 L495.6,194.4 L496.0,203.9 L497.9,216.5 L500.1,223.2 L501.0,224.5 L503.2,226.1 L507.7,227.1 L514.4,227.4 L538.1,223.1 L545.1,222.7 L555.9,224.2 L576.2,229.1 L583.3,229.2 L585.4,228.7 L586.0,228.1 L586.2,226.6 L585.8,225.4 L583.7,222.3 L576.8,215.2 L567.5,206.8 L548.1,191.5 L540.3,186.5 L534.8,183.9 L525.1,180.7 L517.4,178.7 L509.8,177.5 L503.3,177.8 L500.6,178.7 L498.6,180.2 L497.2,182.5Z M-6.3,210.1 L-7.2,221.8 L-7.4,245.7 L-6.9,262.2 L-6.0,272.2 L-5.4,274.0 L-4.1,274.8 L5.4,277.2 L16.6,279.1 L24.4,279.5 L27.8,279.4 L30.9,278.8 L33.2,277.9 L35.0,276.5 L36.3,274.7 L38.0,270.1 L39.9,252.6 L44.9,231.1 L45.0,224.4 L44.1,221.6 L42.5,219.4 L40.0,217.7 L36.3,216.4 L32.0,215.6 L21.9,214.6 L-0.1,214.1 L-3.7,212.9 L-4.9,212.0Z" fill="#addcd6" stroke="#fff" stroke-width="0.9" fill-rule="evenodd"/>
<path d="M438.3,270.1 L438.4,280.4 L439.3,288.7 L440.9,296.2 L442.1,299.1 L443.6,301.7 L447.3,306.6 L451.8,310.9 L457.0,314.7 L462.6,317.8 L468.4,320.1 L478.9,322.0 L489.8,322.5 L500.9,322.3 L507.8,321.5 L512.2,320.0 L512.6,319.3 L512.3,318.6 L509.1,316.8 L472.3,306.4 L460.4,301.8 L454.0,298.5 L449.0,294.3 L446.0,290.3 L443.5,284.0 L439.5,268.9 L438.8,267.3Z M414.1,65.8 L413.9,68.5 L414.6,71.7 L416.7,76.4 L418.5,79.1 L422.3,82.6 L432.1,89.8 L443.7,100.0 L448.7,103.0 L452.1,104.0 L455.5,104.5 L458.9,104.4 L463.8,103.5 L468.8,101.8 L474.3,99.3 L477.3,97.1 L479.1,94.5 L479.3,93.0 L478.5,89.5 L476.3,85.3 L473.2,80.9 L469.4,76.6 L465.4,73.1 L458.2,69.1 L452.6,66.9 L444.1,64.3 L436.2,62.7 L430.8,62.2 L422.8,62.1 L418.5,62.7 L415.5,63.8Z M454.8,130.8 L455.0,135.1 L455.9,139.7 L457.2,143.7 L458.7,146.3 L461.0,147.3 L464.1,147.3 L468.9,145.9 L471.3,144.0 L472.4,141.5 L472.4,135.0 L470.9,127.7 L469.5,124.1 L468.7,123.0 L467.7,122.4 L464.9,122.1 L461.6,122.9 L458.5,124.4 L456.1,126.5 L455.4,127.6Z M73.9,176.1 L71.5,179.6 L70.3,183.2 L70.5,185.5 L72.4,188.8 L75.9,192.1 L79.0,194.0 L82.5,195.5 L89.2,196.9 L100.0,197.6 L104.9,197.2 L109.0,196.2 L114.6,193.4 L117.8,191.0 L121.1,186.9 L121.9,184.0 L121.8,180.4 L120.8,176.6 L117.9,171.3 L115.0,168.8 L113.2,168.1 L108.7,167.1 L97.6,166.9 L90.4,167.5 L86.7,168.3 L83.4,169.4 L79.2,171.6Z" fill="#e5f3f2" stroke="#fff" stroke-width="0.9" fill-rule="evenodd"/>
<path d="M551.6,302.1 L551.6,303.9 L552.2,306.0 L557.0,314.9 L558.4,319.1 L558.0,323.4 L555.8,330.3 L555.2,334.5 L555.5,336.3 L556.6,337.8 L558.4,339.0 L565.5,341.0 L575.9,342.4 L587.5,342.9 L592.9,342.6 L597.9,341.9 L602.0,340.8 L605.0,339.0 L606.9,336.5 L608.0,333.0 L608.6,328.8 L608.6,324.2 L607.6,314.4 L605.0,299.2 L605.2,294.8 L601.8,295.7 L576.1,296.0 L560.4,297.3 L556.5,298.1 L553.8,299.2 L552.2,300.5Z M127.0,166.2 L128.4,167.3 L133.0,167.8 L150.4,165.3 L153.7,166.1 L157.0,168.9 L158.7,172.6 L158.9,176.2 L157.7,177.9 L151.4,181.8 L149.0,184.7 L145.2,196.8 L143.1,205.3 L142.4,213.6 L142.9,217.3 L144.1,220.4 L146.2,222.7 L149.6,224.4 L154.0,225.6 L159.3,226.4 L171.8,227.0 L184.8,226.5 L201.4,224.7 L209.4,222.6 L216.1,219.3 L230.1,209.8 L244.6,200.4 L252.3,194.4 L256.8,189.3 L263.7,177.3 L266.4,174.1 L267.8,173.3 L274.9,172.8 L295.0,173.5 L305.8,172.9 L312.3,171.3 L328.1,165.2 L335.1,163.4 L339.1,162.9 L343.3,162.7 L352.6,163.2 L377.3,166.0 L385.6,166.2 L389.1,165.9 L395.3,164.7 L409.8,159.9 L416.4,159.2 L421.8,159.4 L432.1,160.9 L455.6,166.3 L462.3,167.4 L468.1,167.4 L474.9,166.2 L489.9,160.9 L519.2,151.9 L532.5,146.3 L545.8,138.4 L575.1,118.3 L587.1,111.6 L598.0,106.4 L600.7,105.5 L601.9,105.9 L602.9,106.9 L604.4,110.1 L605.2,101.5 L605.6,73.1 L605.4,50.5 L604.5,36.4 L604.1,35.9 L602.0,39.5 L599.6,40.5 L584.4,40.1 L575.1,40.6 L554.2,42.9 L536.4,45.7 L525.1,48.3 L514.6,51.4 L505.5,54.8 L500.6,57.2 L495.9,60.4 L493.2,63.8 L488.9,71.8 L482.1,89.9 L477.6,97.7 L471.1,106.4 L466.3,112.0 L461.7,116.3 L458.0,118.3 L456.4,118.0 L454.4,115.8 L450.0,104.6 L448.8,102.9 L447.4,101.7 L443.9,100.9 L431.2,102.3 L426.8,101.7 L422.9,99.9 L413.5,93.0 L408.5,90.3 L395.0,86.1 L378.0,82.6 L363.0,80.4 L350.6,79.5 L314.3,78.0 L303.1,77.1 L299.3,76.5 L296.6,75.4 L295.7,74.4 L295.6,73.3 L296.3,71.6 L300.3,66.5 L300.3,65.7 L299.1,65.1 L294.2,64.9 L287.2,65.4 L275.1,67.2 L267.7,68.9 L264.6,69.8 L259.6,72.1 L255.6,75.0 L248.0,81.5 L240.5,85.8 L211.4,97.1 L180.2,110.4 L153.7,120.3 L148.2,123.0 L139.6,128.0 L136.2,130.7 L133.3,133.8 L131.0,137.6 L128.8,142.9 L127.0,149.5 L125.8,156.2 L125.7,162.1 L126.1,164.5Z M184.4,266.6 L185.6,272.6 L188.0,278.9 L191.2,284.1 L194.8,287.3 L197.2,288.6 L203.1,290.6 L209.5,291.7 L212.6,291.9 L217.6,291.3 L219.4,290.5 L220.8,289.2 L222.1,287.2 L223.2,284.7 L224.6,278.9 L224.8,272.8 L224.4,270.1 L223.4,267.7 L222.0,265.9 L219.8,264.5 L216.6,263.1 L208.4,260.9 L199.3,259.6 L191.2,259.4 L188.2,259.8 L186.1,260.6 L185.0,262.0 L184.4,264.0Z M74.3,152.2 L74.3,153.7 L75.5,156.4 L78.1,158.8 L82.2,160.1 L93.5,161.3 L106.8,161.6 L116.3,160.9 L118.1,160.3 L120.8,158.5 L121.6,157.3 L122.2,154.9 L121.2,152.6 L120.0,151.7 L115.9,150.3 L108.1,149.1 L93.5,148.0 L84.4,147.8 L78.4,148.3 L75.5,149.8Z M-8.1,155.2 L-8.5,161.0 L-7.6,167.0 L-6.1,170.3 L-3.4,171.4 L-1.2,171.3 L1.1,170.6 L4.5,168.7 L8.7,164.7 L11.4,161.5 L13.2,158.5 L13.5,157.2 L13.3,156.2 L10.9,154.6 L6.5,153.2 L1.3,152.3 L-5.3,152.4 L-6.7,152.9Z" fill="#6dc3b5" stroke="#fff" stroke-width="0.9" fill-rule="evenodd"/>
<path d="M499.2,90.9 L495.4,94.5 L490.8,97.9 L477.2,107.1 L464.7,114.5 L461.7,117.0 L460.0,119.8 L459.3,124.9 L460.4,130.0 L462.7,133.6 L466.1,135.8 L469.2,136.7 L474.8,136.7 L479.3,135.6 L487.8,131.7 L504.6,121.8 L514.4,116.9 L543.1,105.7 L566.0,96.2 L575.0,93.1 L586.3,90.7 L599.7,89.1 L602.1,89.5 L604.4,92.1 L605.2,86.4 L605.6,67.8 L605.4,53.0 L604.5,43.8 L604.1,43.5 L602.0,45.9 L599.7,46.5 L587.1,46.1 L578.3,46.3 L558.6,48.3 L544.7,50.4 L532.5,53.2 L519.4,58.1 L513.8,61.1 L509.0,64.3 L505.3,67.8 L504.0,69.7 L502.7,73.9 L502.2,85.0 L501.6,87.2Z M147.4,162.0 L149.2,168.5 L150.6,167.7 L152.2,168.2 L164.2,175.4 L170.2,178.2 L174.2,179.2 L184.6,180.3 L190.0,182.1 L193.2,184.9 L200.7,195.9 L203.4,198.1 L204.9,198.6 L207.9,198.7 L215.9,196.6 L219.5,196.1 L223.3,196.6 L231.9,198.7 L235.9,199.1 L237.7,198.8 L239.3,198.1 L241.7,195.4 L245.2,184.4 L247.5,180.1 L249.3,178.2 L253.9,174.7 L259.6,171.3 L265.9,168.2 L272.3,165.8 L278.6,164.2 L284.7,163.9 L290.9,164.7 L305.8,167.9 L321.0,169.9 L325.4,170.0 L329.0,169.2 L330.4,168.2 L331.4,166.8 L332.0,164.8 L332.4,151.6 L333.3,146.9 L334.3,145.0 L337.5,141.8 L341.5,139.1 L348.8,136.2 L357.6,135.0 L364.8,135.5 L373.2,137.1 L390.4,141.4 L411.2,146.0 L415.4,146.5 L418.8,145.9 L420.2,144.9 L421.3,143.4 L422.8,138.9 L423.4,130.0 L422.7,121.7 L421.4,118.1 L420.4,116.7 L417.8,114.6 L411.6,111.2 L408.8,108.9 L407.1,106.1 L404.8,99.1 L402.2,95.8 L397.6,93.1 L394.1,91.9 L380.4,89.0 L363.8,86.9 L347.7,85.4 L338.0,84.9 L323.7,84.7 L262.1,87.0 L244.5,88.4 L234.5,89.8 L221.8,92.7 L199.4,99.3 L170.1,106.8 L164.2,109.0 L159.3,111.5 L155.0,114.3 L151.4,117.2 L148.5,120.1 L145.4,124.3 L144.3,126.9 L143.9,129.4 L144.4,140.0 L145.4,149.3Z M155.5,193.1 L155.9,203.1 L157.6,211.4 L158.9,213.5 L160.8,215.0 L162.9,215.6 L164.8,215.4 L166.2,214.1 L166.7,212.9 L168.1,206.4 L168.8,198.5 L168.2,192.8 L167.5,191.6 L165.2,189.9 L162.3,188.8 L159.3,188.6 L157.0,189.3 L156.2,190.1Z" fill="#2a9283" stroke="#fff" stroke-width="0.9" fill-rule="evenodd"/>
<path d="M583.8,56.7 L583.5,58.9 L584.6,62.5 L586.1,64.5 L588.3,65.7 L593.9,66.6 L602.2,66.6 L605.0,65.8 L605.8,65.1 L606.9,63.1 L607.3,60.5 L607.0,57.9 L605.9,55.9 L603.7,54.7 L597.4,53.9 L590.0,54.1 L585.1,55.2Z M518.0,67.6 L517.8,69.0 L518.5,72.2 L523.4,83.3 L524.4,84.5 L526.0,85.6 L530.2,86.8 L542.1,87.8 L547.3,87.7 L551.8,87.1 L556.1,85.9 L562.6,83.0 L567.3,79.8 L568.4,77.8 L568.1,76.8 L566.4,75.0 L561.1,72.2 L554.2,69.8 L545.8,67.9 L534.7,66.1 L524.4,65.3 L519.9,65.8 L518.7,66.5Z M483.9,105.8 L483.6,109.0 L484.4,112.7 L488.0,121.0 L490.4,125.2 L492.5,127.7 L495.2,129.7 L498.6,131.0 L500.7,131.3 L505.7,131.4 L514.4,130.5 L520.2,129.3 L525.2,127.6 L532.5,123.8 L537.4,120.5 L541.2,117.1 L543.1,114.2 L543.1,113.0 L542.4,112.0 L541.1,111.1 L536.7,109.6 L527.9,107.8 L504.5,104.1 L496.9,103.2 L490.4,103.0 L486.0,103.7 L484.7,104.6Z M152.0,124.8 L152.8,129.3 L155.6,136.7 L160.9,147.1 L166.6,156.4 L171.0,161.8 L180.1,170.8 L183.2,172.6 L186.2,172.9 L189.8,172.1 L204.1,167.3 L207.4,166.5 L214.5,165.8 L230.6,165.4 L239.4,164.2 L246.0,161.3 L257.1,153.8 L264.9,151.1 L280.5,148.7 L291.2,148.3 L296.9,147.5 L298.5,146.9 L301.0,145.1 L306.0,137.2 L308.4,135.0 L316.6,130.9 L323.0,129.3 L328.4,129.0 L335.1,129.5 L363.9,134.5 L382.3,137.0 L392.2,137.9 L397.5,137.6 L399.5,136.9 L401.1,136.0 L402.3,134.7 L403.6,131.4 L404.0,127.4 L403.6,117.0 L404.5,107.5 L403.6,102.9 L402.3,100.7 L400.4,98.8 L397.6,97.1 L389.1,94.2 L371.2,90.9 L350.8,88.5 L325.9,86.7 L301.3,86.5 L273.3,87.8 L248.4,90.5 L236.5,92.6 L230.9,94.1 L227.7,95.7 L223.7,100.1 L218.5,102.5 L173.4,113.5 L161.4,116.8 L153.7,120.8 L152.6,122.2Z" fill="#15665a" stroke="#fff" stroke-width="0.9" fill-rule="evenodd"/>
<path d="M167.5,124.3 L166.8,126.3 L166.7,129.6 L168.0,136.6 L171.5,142.9 L176.0,155.6 L179.9,164.0 L182.7,168.3 L184.1,169.2 L184.9,169.2 L186.3,168.4 L191.4,162.2 L196.9,157.6 L199.4,154.9 L206.0,144.5 L208.2,141.9 L210.7,140.2 L213.9,138.9 L217.3,138.1 L220.3,137.8 L221.8,138.0 L223.3,138.9 L223.6,139.9 L223.4,141.3 L219.3,152.2 L219.4,154.9 L221.9,157.5 L224.5,158.8 L227.8,159.4 L231.4,159.3 L235.4,158.2 L240.0,156.0 L259.0,144.9 L290.5,131.0 L294.4,127.8 L296.7,123.9 L298.6,123.0 L301.2,122.9 L311.0,124.8 L314.4,125.0 L317.8,124.5 L326.2,121.9 L330.1,121.2 L336.8,120.9 L347.5,121.5 L355.3,122.5 L359.9,123.6 L373.9,129.8 L377.6,131.0 L386.4,132.2 L389.7,132.1 L392.4,131.5 L395.5,129.4 L397.0,127.3 L398.2,124.8 L399.3,120.5 L400.4,113.6 L400.7,107.4 L399.9,103.7 L398.9,102.2 L397.6,101.1 L395.6,100.2 L390.2,99.2 L379.9,98.8 L365.4,99.1 L355.1,101.2 L351.7,101.1 L350.7,100.4 L349.8,98.7 L348.3,91.8 L346.6,90.1 L345.1,89.3 L332.1,89.2 L302.6,90.8 L262.4,94.7 L244.5,97.1 L233.4,99.3 L230.1,100.2 L222.4,103.8 L216.7,105.7 L178.8,116.4 L174.5,118.3 L171.1,120.3 L168.7,122.6Z" fill="#0e3b31" stroke="#fff" stroke-width="0.9" fill-rule="evenodd"/>
<path d="M33.2,0 V332.4 M66.5,0 V332.4 M99.7,0 V332.4 M133.0,0 V332.4 M166.2,0 V332.4 M199.4,0 V332.4 M232.7,0 V332.4 M265.9,0 V332.4 M299.2,0 V332.4 M332.4,0 V332.4 M365.6,0 V332.4 M398.9,0 V332.4 M432.1,0 V332.4 M465.4,0 V332.4 M498.6,0 V332.4 M531.8,0 V332.4 M565.1,0 V332.4" stroke="#9a9a9a" stroke-width="1.1" stroke-dasharray="3.8,4.76" stroke-dashoffset="4.56" fill="none"/>
<path d="M0,33.2 H598.3 M0,66.5 H598.3 M0,99.7 H598.3 M0,133.0 H598.3 M0,166.2 H598.3 M0,199.4 H598.3 M0,232.7 H598.3 M0,265.9 H598.3 M0,299.2 H598.3" stroke="#9a9a9a" stroke-width="1.1" stroke-dasharray="3.8,4.76" stroke-dashoffset="0.36" fill="none"/>
<use href="#coast" fill="none" stroke="#000" stroke-width="1.5" stroke-linejoin="round"/>
</g>
<rect x="0" y="0" width="598.3" height="332.4" fill="none" stroke="#000" stroke-width="2.6"/>
<line x1="0.0" y1="332.4" x2="0.0" y2="338.4" stroke="#000" stroke-width="1.6" stroke-linecap="round"/>
<line x1="66.5" y1="332.4" x2="66.5" y2="344.4" stroke="#000" stroke-width="3" stroke-linecap="round"/>
<line x1="133.0" y1="332.4" x2="133.0" y2="338.4" stroke="#000" stroke-width="1.6" stroke-linecap="round"/>
<line x1="199.4" y1="332.4" x2="199.4" y2="338.4" stroke="#000" stroke-width="1.6" stroke-linecap="round"/>
<line x1="265.9" y1="332.4" x2="265.9" y2="344.4" stroke="#000" stroke-width="3" stroke-linecap="round"/>
<line x1="332.4" y1="332.4" x2="332.4" y2="338.4" stroke="#000" stroke-width="1.6" stroke-linecap="round"/>
<line x1="398.9" y1="332.4" x2="398.9" y2="338.4" stroke="#000" stroke-width="1.6" stroke-linecap="round"/>
<line x1="465.4" y1="332.4" x2="465.4" y2="344.4" stroke="#000" stroke-width="3" stroke-linecap="round"/>
<line x1="531.8" y1="332.4" x2="531.8" y2="338.4" stroke="#000" stroke-width="1.6" stroke-linecap="round"/>
<line x1="598.3" y1="332.4" x2="598.3" y2="338.4" stroke="#000" stroke-width="1.6" stroke-linecap="round"/>
<line x1="0.0" y1="332.4" x2="-6.0" y2="332.4" stroke="#000" stroke-width="1.6" stroke-linecap="round"/>
<line x1="0.0" y1="299.2" x2="-6.0" y2="299.2" stroke="#000" stroke-width="1.6" stroke-linecap="round"/>
<line x1="0.0" y1="265.9" x2="-12.0" y2="265.9" stroke="#000" stroke-width="3" stroke-linecap="round"/>
<line x1="0.0" y1="232.7" x2="-6.0" y2="232.7" stroke="#000" stroke-width="1.6" stroke-linecap="round"/>
<line x1="0.0" y1="199.4" x2="-6.0" y2="199.4" stroke="#000" stroke-width="1.6" stroke-linecap="round"/>
<line x1="0.0" y1="166.2" x2="-6.0" y2="166.2" stroke="#000" stroke-width="1.6" stroke-linecap="round"/>
<line x1="0.0" y1="133.0" x2="-12.0" y2="133.0" stroke="#000" stroke-width="3" stroke-linecap="round"/>
<line x1="0.0" y1="99.7" x2="-6.0" y2="99.7" stroke="#000" stroke-width="1.6" stroke-linecap="round"/>
<line x1="0.0" y1="66.5" x2="-6.0" y2="66.5" stroke="#000" stroke-width="1.6" stroke-linecap="round"/>
<line x1="0.0" y1="33.2" x2="-6.0" y2="33.2" stroke="#000" stroke-width="1.6" stroke-linecap="round"/>
<line x1="0.0" y1="0.0" x2="-12.0" y2="0.0" stroke="#000" stroke-width="3" stroke-linecap="round"/>
<text transform="translate(66.5,367.0) scale(0.9,1)" font-size="16.8" text-anchor="middle">90E</text>
<text transform="translate(265.9,367.0) scale(0.9,1)" font-size="16.8" text-anchor="middle">120E</text>
<text transform="translate(465.4,367.0) scale(0.9,1)" font-size="16.8" text-anchor="middle">150E</text>
<text transform="translate(-22,5.9) scale(0.9,1)" font-size="16.8" text-anchor="end">60N</text>
<text transform="translate(-22,138.9) scale(0.9,1)" font-size="16.8" text-anchor="end">40N</text>
<text transform="translate(-22,271.8) scale(0.9,1)" font-size="16.8" text-anchor="end">20N</text>
</g>
<text x="54.4" y="30.3" font-size="29" font-weight="bold">A</text>
<text x="708.5" y="30.3" font-size="29" font-weight="bold">B</text>
<text x="54.4" y="468.8" font-size="29" font-weight="bold">C</text>
<text x="708.3" y="468.8" font-size="29" font-weight="bold">D</text>
<text x="649.4" y="17.0" font-size="23.55" text-anchor="end">Geopotential Height Anomaly at 500 hPa [m]</text>
<text x="1309.3" y="17.0" font-size="23.55" text-anchor="end">Geopotential Height Anomaly at 500 hPa [m]</text>
<text x="649.4" y="458.7" font-size="23.55" text-anchor="end">Moist Static Energy Anomaly at 850hPa [KJ kg<tspan dy="-12" font-size="14.5">-1</tspan><tspan dy="12">]</tspan></text>
<text x="1309.3" y="458.7" font-size="23.55" text-anchor="end">Moist Static Energy Anomaly at 850hPa [KJ kg<tspan dy="-12" font-size="14.5">-1</tspan><tspan dy="12">]</tspan></text>
<path d="M1341.1,55.7 L1355.0,27.4 L1368.9,55.7Z" fill="#8f1b1f"/>
<rect x="1341.1" y="55.70" width="27.8" height="29.85" fill="#d6212b"/>
<rect x="1341.1" y="85.15" width="27.8" height="29.85" fill="#f26a2b"/>
<rect x="1341.1" y="114.60" width="27.8" height="29.85" fill="#f9ae30"/>
<rect x="1341.1" y="144.05" width="27.8" height="29.85" fill="#fbef9c"/>
<rect x="1341.1" y="173.50" width="27.8" height="29.85" fill="#ffffff"/>
<rect x="1341.1" y="202.95" width="27.8" height="29.85" fill="#ffffff"/>
<rect x="1341.1" y="232.40" width="27.8" height="29.85" fill="#dbeef9"/>
<rect x="1341.1" y="261.85" width="27.8" height="29.85" fill="#a3d9f2"/>
<rect x="1341.1" y="291.30" width="27.8" height="29.85" fill="#5aa4d8"/>
<rect x="1341.1" y="320.75" width="27.8" height="29.85" fill="#2156a5"/>
<path d="M1341.1,350.2 L1355.0,378.5 L1368.9,350.2Z" fill="#232a63"/>
<text x="1399.4" y="64.7" font-size="26" text-anchor="middle">50</text>
<text x="1399.4" y="94.2" font-size="26" text-anchor="middle">40</text>
<text x="1399.4" y="123.6" font-size="26" text-anchor="middle">30</text>
<text x="1399.4" y="153.1" font-size="26" text-anchor="middle">20</text>
<text x="1399.4" y="182.5" font-size="26" text-anchor="middle">10</text>
<text x="1399.4" y="211.9" font-size="26" text-anchor="middle">0</text>
<text x="1399.4" y="241.4" font-size="26" text-anchor="middle">-10</text>
<text x="1399.4" y="270.9" font-size="26" text-anchor="middle">-20</text>
<text x="1399.4" y="300.3" font-size="26" text-anchor="middle">-30</text>
<text x="1399.4" y="329.8" font-size="26" text-anchor="middle">-40</text>
<text x="1399.4" y="359.2" font-size="26" text-anchor="middle">-50</text>
<path d="M1348.2,495.2 L1362.1,465.6 L1376.0,495.2Z" fill="#0e3b31"/>
<rect x="1348.2" y="495.20" width="27.8" height="29.80" fill="#15665a"/>
<rect x="1348.2" y="524.60" width="27.8" height="29.80" fill="#2a9283"/>
<rect x="1348.2" y="554.00" width="27.8" height="29.80" fill="#6dc3b5"/>
<rect x="1348.2" y="583.40" width="27.8" height="29.80" fill="#addcd6"/>
<rect x="1348.2" y="612.80" width="27.8" height="29.80" fill="#e5f3f2"/>
<rect x="1348.2" y="642.20" width="27.8" height="29.80" fill="#f8f3e2"/>
<rect x="1348.2" y="671.60" width="27.8" height="29.80" fill="#efdca6"/>
<rect x="1348.2" y="701.00" width="27.8" height="29.80" fill="#ddb574"/>
<rect x="1348.2" y="730.40" width="27.8" height="29.80" fill="#b97d2f"/>
<rect x="1348.2" y="759.80" width="27.8" height="29.80" fill="#8b5022"/>
<path d="M1348.2,789.2 L1362.1,818.8 L1376.0,789.2Z" fill="#563117"/>
<text x="1399.4" y="504.2" font-size="26" text-anchor="middle">5</text>
<text x="1399.4" y="533.6" font-size="26" text-anchor="middle">4</text>
<text x="1399.4" y="563.0" font-size="26" text-anchor="middle">3</text>
<text x="1399.4" y="592.4" font-size="26" text-anchor="middle">2</text>
<text x="1399.4" y="621.8" font-size="26" text-anchor="middle">1</text>
<text x="1399.4" y="651.2" font-size="26" text-anchor="middle">0</text>
<text x="1399.4" y="680.6" font-size="26" text-anchor="middle">-1</text>
<text x="1399.4" y="710.0" font-size="26" text-anchor="middle">-2</text>
<text x="1399.4" y="739.4" font-size="26" text-anchor="middle">-3</text>
<text x="1399.4" y="768.8" font-size="26" text-anchor="middle">-4</text>
<text x="1399.4" y="798.2" font-size="26" text-anchor="middle">-5</text>
</svg></body></html>
